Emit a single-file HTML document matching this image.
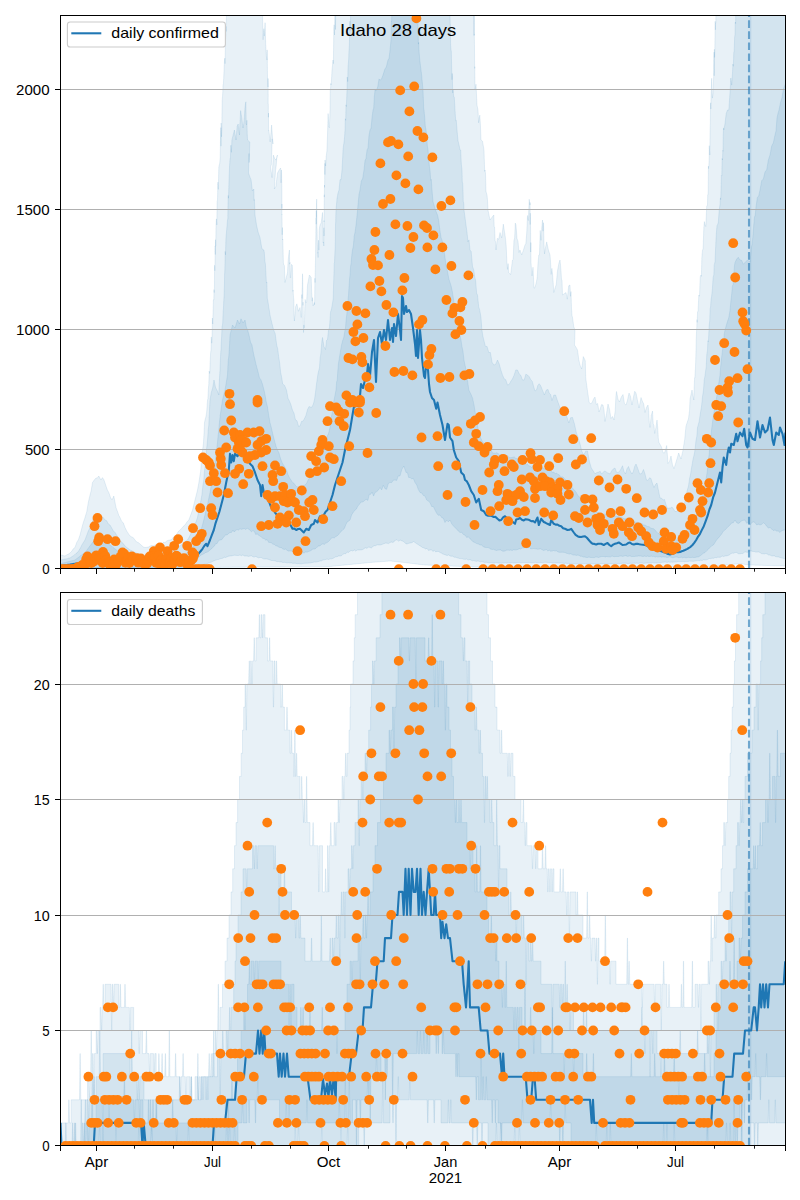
<!DOCTYPE html>
<html><head><meta charset="utf-8"><title>Idaho 28 days</title>
<style>html,body{margin:0;padding:0;background:#fff;}body{width:800px;height:1200px;overflow:hidden;font-family:"Liberation Sans",sans-serif;}svg{display:block}text{font-family:"Liberation Sans",sans-serif;fill:#000}</style></head><body>
<svg width="800" height="1200" viewBox="0 0 800 1200">
<rect width="800" height="1200" fill="#fff"/>
<defs>
<clipPath id="c1"><rect x="60.5" y="15.5" width="725" height="553"/></clipPath>
<clipPath id="c2"><rect x="60.5" y="592.5" width="725" height="553"/></clipPath>
</defs>
<g clip-path="url(#c1)">
<polygon points="60.5,555.0 62.0,555.1 63.5,555.7 65.0,556.0 66.7,554.9 68.3,554.1 70.0,553.0 71.7,551.3 73.3,548.8 75.0,547.5 76.7,542.5 78.3,539.9 80.0,535.0 81.7,528.5 83.3,522.5 85.0,517.5 86.7,512.0 88.3,502.4 90.0,495.0 91.2,490.6 92.5,482.5 94.2,480.1 96.0,478.0 97.4,477.9 98.8,476.0 101.0,480.0 102.4,477.6 103.8,479.5 106.0,486.0 107.4,490.0 108.8,492.5 111.0,499.0 112.4,499.3 113.8,496.0 116.0,507.5 117.3,510.9 118.7,515.1 120.0,517.5 121.7,521.4 123.3,522.8 125.0,527.5 126.7,531.0 128.3,533.4 130.0,536.0 131.7,536.9 133.3,537.7 135.0,540.0 136.7,542.0 138.3,542.6 140.0,544.0 141.7,545.5 143.3,546.9 145.0,547.5 146.7,547.3 148.3,547.1 150.0,546.0 151.7,545.5 153.3,545.8 155.0,545.0 156.7,544.6 158.3,545.1 160.0,544.0 161.7,544.2 163.3,542.3 165.0,542.5 166.7,541.0 168.3,540.3 170.0,540.0 171.7,539.6 173.3,537.2 175.0,536.0 176.7,534.3 178.3,531.5 180.0,530.0 181.7,528.4 183.3,526.3 185.0,525.0 186.9,522.0 188.8,520.0 190.6,515.3 192.5,510.0 195.0,500.0 197.5,490.0 198.8,483.0 200.0,475.0 200.6,471.6 201.2,463.8 201.9,459.6 202.5,450.0 203.0,447.1 203.5,442.5 204.0,433.6 204.5,422.6 205.0,420.0 205.8,417.2 206.7,411.9 207.5,400.0 207.9,398.7 208.4,388.4 208.8,384.0 209.2,371.1 209.7,373.4 210.1,363.6 210.6,353.1 211.0,350.0 211.3,336.9 211.7,343.2 212.0,339.4 212.4,318.0 212.7,324.0 213.1,310.9 213.4,299.8 213.8,300.0 214.0,289.7 214.2,292.6 214.4,288.5 214.6,265.3 214.8,270.7 215.0,262.0 215.2,245.9 215.3,254.5 215.5,239.7 215.7,246.2 215.8,242.5 216.0,225.0 216.4,218.9 216.8,224.9 217.1,201.4 217.5,200.0 217.9,182.2 218.3,189.3 218.8,167.3 219.2,165.0 219.6,164.1 220.0,160.0 220.2,157.0 220.5,137.4 220.8,127.6 221.0,146.2 221.2,123.0 221.5,136.8 221.8,128.8 222.0,110.0 222.2,99.8 222.5,96.2 222.8,91.9 223.0,85.0 223.4,83.7 223.8,75.8 224.1,68.3 224.5,60.0 224.8,58.1 225.1,63.6 225.4,41.5 225.8,35.0 226.0,26.4 226.2,31.4 226.5,6.9 226.8,3.2 227.0,5.0 228.3,5.0 229.7,5.0 231.0,5.0 232.4,5.0 233.7,5.0 235.1,5.0 236.4,5.0 237.8,5.0 239.1,5.0 240.5,5.0 241.8,5.0 243.2,5.0 244.5,5.0 245.8,5.0 247.2,5.0 248.5,5.0 249.9,5.0 251.2,5.0 252.6,5.0 253.9,5.0 255.3,5.0 256.6,5.0 258.0,5.0 259.3,5.0 260.7,5.0 262.0,5.0 262.5,15.0 263.1,39.7 263.8,28.7 264.4,36.1 265.1,22.7 265.7,44.1 266.4,56.5 267.0,60.0 267.2,49.9 267.5,77.5 267.8,84.8 268.0,87.0 268.1,78.5 268.2,103.5 268.3,104.3 268.4,117.3 268.5,113.1 268.6,130.3 268.8,130.0 270.2,141.9 271.6,125.0 273.0,144.0 272.2,138.9 271.4,164.4 270.6,167.0 272.0,177.7 273.4,155.1 274.7,158.6 276.1,160.1 277.5,155.0 276.9,156.7 276.3,164.8 275.6,170.2 275.0,178.7 274.4,189.0 275.9,186.3 277.5,173.1 279.1,169.9 280.6,168.0 281.0,182.8 281.5,169.9 281.9,190.0 281.9,198.1 281.9,208.5 281.9,204.0 281.9,215.0 282.0,214.5 282.2,234.7 282.4,227.6 282.5,240.0 282.8,239.2 283.1,251.1 283.4,263.0 283.8,265.0 284.4,265.5 285.0,282.5 287.5,272.5 288.1,261.2 288.8,253.9 289.4,250.0 289.7,264.1 290.0,262.4 290.3,278.0 290.6,277.5 291.4,264.4 292.2,265.0 292.5,267.9 292.7,280.6 292.9,291.4 293.1,290.0 293.4,295.3 293.6,297.3 293.9,301.7 294.1,315.3 294.4,321.0 295.6,306.8 296.9,303.8 298.4,311.3 300.0,307.5 301.2,317.5 301.4,317.3 301.6,299.2 301.8,294.6 302.0,298.4 302.1,289.1 302.3,286.2 302.5,273.8 302.6,277.2 302.7,279.5 302.8,289.3 302.9,305.4 303.1,302.2 303.2,310.2 303.3,318.0 303.4,324.6 303.5,332.5 303.9,325.0 304.3,327.8 304.8,308.4 305.2,299.5 305.6,302.5 306.6,302.3 307.5,285.0 309.4,275.0 311.2,277.5 311.7,292.2 312.2,301.2 312.6,297.6 313.1,306.0 314.4,302.5 314.5,304.8 314.7,298.3 314.9,278.2 315.0,282.5 315.1,278.2 315.3,268.5 315.5,259.2 315.6,252.5 315.7,241.7 315.8,236.7 315.9,227.8 316.1,217.8 316.2,224.2 316.3,210.7 316.4,217.6 316.5,203.8 316.7,199.1 316.9,227.1 317.1,228.6 317.3,240.6 317.5,246.5 317.7,253.1 317.9,252.5 318.1,257.5 318.5,240.2 318.9,250.1 319.2,230.4 319.6,226.8 320.0,225.0 321.2,222.7 322.5,212.5 322.8,219.8 323.0,223.8 323.2,242.9 323.5,241.9 323.8,246.0 323.8,236.1 323.9,227.8 324.0,236.0 324.0,220.6 324.1,221.9 324.2,204.9 324.3,194.7 324.3,197.1 324.4,190.0 324.5,185.0 324.6,187.4 324.8,163.4 324.9,174.5 325.0,160.0 325.6,166.0 326.2,156.5 326.9,150.9 327.5,135.0 328.1,113.6 328.8,126.5 329.4,127.7 330.0,110.0 330.2,89.1 330.5,90.0 330.8,83.5 331.0,85.0 331.5,79.7 332.0,69.8 332.5,65.3 333.0,60.0 333.4,63.7 333.8,29.3 334.1,24.8 334.5,35.0 334.8,14.9 335.0,8.7 335.2,0.3 335.5,29.5 335.8,5.0 337.1,5.0 338.4,5.0 339.7,5.0 341.0,5.0 342.3,5.0 343.6,5.0 344.9,5.0 346.2,5.0 347.5,5.0 348.8,5.0 350.1,5.0 351.4,5.0 352.7,5.0 354.0,5.0 355.3,5.0 356.6,5.0 357.9,5.0 359.2,5.0 360.5,5.0 361.8,5.0 363.1,5.0 364.4,5.0 365.7,5.0 367.1,5.0 368.4,5.0 369.7,5.0 371.0,5.0 372.3,5.0 373.6,5.0 374.9,5.0 376.2,5.0 377.5,5.0 378.8,5.0 380.1,5.0 381.4,5.0 382.7,5.0 384.0,5.0 385.3,5.0 386.6,5.0 387.9,5.0 389.2,5.0 390.5,5.0 391.8,5.0 393.1,5.0 394.4,5.0 395.7,5.0 397.0,5.0 398.4,5.0 399.7,5.0 401.0,5.0 402.3,5.0 403.6,5.0 404.9,5.0 406.2,5.0 407.5,5.0 408.8,5.0 410.1,5.0 411.4,5.0 412.7,5.0 414.0,5.0 415.3,5.0 416.6,5.0 417.9,5.0 419.2,5.0 420.5,5.0 421.8,5.0 423.1,5.0 424.4,5.0 425.7,5.0 427.0,5.0 428.4,5.0 429.7,5.0 431.0,5.0 432.3,5.0 433.6,5.0 434.9,5.0 436.2,5.0 437.5,5.0 438.8,5.0 440.1,5.0 441.4,5.0 442.7,5.0 444.0,5.0 445.3,5.0 446.6,5.0 447.9,5.0 449.2,5.0 450.5,5.0 451.8,5.0 453.1,5.0 454.4,5.0 455.7,5.0 457.0,5.0 458.3,5.0 459.7,5.0 461.0,5.0 462.3,5.0 463.6,5.0 464.9,5.0 466.2,5.0 467.5,5.0 468.8,5.0 470.1,5.0 471.4,5.0 472.7,5.0 474.0,5.0 474.0,16.0 474.1,35.7 474.2,12.7 474.2,34.6 474.3,33.9 474.4,40.1 474.5,47.6 474.6,64.4 474.7,68.4 474.8,66.7 474.8,67.1 474.9,78.0 475.0,90.0 476.0,84.2 477.0,105.1 478.0,110.0 478.6,122.8 479.2,118.3 479.8,115.1 480.4,124.2 481.0,140.0 482.5,141.2 484.0,150.0 484.3,159.7 484.7,171.3 485.0,170.0 485.5,173.4 486.0,191.4 486.5,193.3 487.0,194.9 487.5,200.1 488.0,210.0 490.0,220.0 491.9,217.4 493.8,215.0 494.2,226.9 494.6,227.1 495.1,240.5 495.6,242.1 496.0,250.0 497.3,238.4 498.7,239.2 500.0,232.5 501.7,237.9 503.3,224.1 505.0,235.0 505.6,239.5 506.2,245.8 506.9,262.1 507.5,269.4 508.1,263.6 508.8,272.5 510.6,274.7 512.5,260.0 513.2,259.4 513.9,240.6 514.6,238.2 515.3,223.1 516.0,225.0 517.0,238.6 518.0,241.3 519.0,252.5 520.0,250.0 521.7,254.9 523.3,250.4 525.0,245.0 525.8,243.7 526.7,233.2 527.5,215.5 528.3,220.5 529.2,199.3 530.0,205.0 530.1,202.5 530.2,224.5 530.3,213.2 530.4,220.9 530.6,227.7 530.7,252.0 530.8,242.6 530.9,245.7 531.0,262.5 532.0,275.9 533.0,267.2 534.0,288.2 535.0,287.5 535.8,284.5 536.5,281.4 537.2,277.5 538.0,263.2 538.8,255.0 539.5,254.7 540.2,230.4 541.0,240.3 541.8,227.3 542.5,220.0 543.0,231.2 543.5,222.7 544.0,243.8 544.5,253.9 545.0,250.0 546.7,241.9 548.3,249.5 550.0,255.0 550.6,262.6 551.2,274.4 551.9,268.4 552.5,273.5 553.1,281.3 553.8,292.5 555.0,288.3 556.2,284.6 557.5,270.8 558.8,263.7 560.0,260.0 560.5,264.8 561.0,270.9 561.5,279.4 562.0,279.8 562.5,295.0 564.2,293.8 566.0,292.5 567.3,299.2 568.7,285.8 570.0,285.0 570.5,296.3 571.0,291.6 571.5,308.0 572.0,315.6 572.5,317.5 573.8,326.7 575.0,330.0 574.8,337.8 574.5,345.0 576.0,347.2 577.5,350.0 578.8,359.6 580.0,365.0 581.7,369.0 583.3,356.6 585.0,360.0 585.3,361.0 585.7,376.7 586.0,380.0 587.5,391.0 589.2,402.5 591.0,404.0 592.3,401.9 593.7,398.7 595.0,397.0 596.3,404.5 597.7,403.5 599.0,412.0 600.0,409.5 601.5,404.6 603.0,405.0 604.0,410.0 605.0,421.5 606.5,413.7 608.0,404.0 609.5,409.2 611.0,418.5 612.5,416.5 614.0,420.0 614.6,415.0 615.2,410.9 615.9,396.2 616.5,391.5 618.0,399.2 619.5,402.0 621.2,397.2 623.0,394.5 624.5,403.9 626.0,405.0 627.5,400.0 629.0,393.0 630.5,396.2 632.0,405.0 633.3,397.7 634.7,391.3 636.0,393.0 637.5,400.3 639.0,408.0 641.0,397.5 642.3,401.1 643.7,403.8 645.0,412.5 646.5,407.2 648.0,405.0 648.7,410.6 649.3,422.8 650.0,427.5 651.2,415.5 652.5,411.0 653.2,423.6 654.0,425.8 654.7,433.5 655.9,427.7 657.0,420.0 657.7,427.2 658.3,438.1 659.0,442.5 661.5,447.0 663.0,452.7 664.5,453.0 666.7,445.5 667.1,452.0 667.6,457.4 668.0,463.5 669.5,461.4 671.0,456.0 672.5,465.0 674.0,468.7 676.5,460.5 678.7,453.0 681.0,459.0 683.0,450.0 684.7,439.5 685.4,431.8 686.0,426.0 688.5,418.5 689.0,414.6 689.5,410.7 690.0,399.0 692.0,390.0 693.8,400.0 694.0,393.4 694.3,384.1 694.6,377.8 694.9,377.9 695.2,371.2 695.4,369.1 695.7,361.5 696.0,350.0 696.2,339.7 696.5,332.5 696.8,327.2 697.0,319.7 697.2,322.3 697.5,312.5 698.1,310.4 698.8,295.0 699.5,296.2 700.2,276.8 701.0,275.0 701.4,276.4 701.8,258.5 702.1,254.6 702.5,250.0 703.1,249.0 703.8,227.9 704.4,221.6 705.0,225.0 705.8,226.5 706.7,206.5 707.5,205.0 707.7,194.9 708.0,194.4 708.2,190.6 708.4,166.1 708.6,168.6 708.9,165.0 709.1,160.1 709.3,145.7 709.5,150.2 709.8,155.0 710.0,135.0 710.2,125.4 710.3,123.9 710.5,104.2 710.7,102.8 710.8,109.1 711.0,97.5 711.7,78.3 712.4,98.1 713.1,92.8 713.8,72.5 714.0,52.1 714.2,75.7 714.4,49.2 714.6,57.4 714.8,50.7 715.0,35.0 715.2,21.3 715.4,29.7 715.6,22.9 715.8,22.9 716.0,5.0 717.3,5.0 718.6,5.0 720.0,5.0 721.3,5.0 722.6,5.0 723.9,5.0 725.2,5.0 726.6,5.0 727.9,5.0 729.2,5.0 730.5,5.0 731.9,5.0 733.2,5.0 734.5,5.0 735.8,5.0 737.1,5.0 738.5,5.0 739.8,5.0 741.1,5.0 742.4,5.0 743.8,5.0 745.1,5.0 746.4,5.0 747.7,5.0 749.0,5.0 750.4,5.0 751.7,5.0 753.0,5.0 754.3,5.0 755.6,5.0 757.0,5.0 758.3,5.0 759.6,5.0 760.9,5.0 762.2,5.0 763.6,5.0 764.9,5.0 766.2,5.0 767.5,5.0 768.9,5.0 770.2,5.0 771.5,5.0 772.8,5.0 774.1,5.0 775.5,5.0 776.8,5.0 778.1,5.0 779.4,5.0 780.8,5.0 782.1,5.0 783.4,5.0 784.7,5.0 786.0,5.0 787.4,5.0 788.7,5.0 790.0,5.0 790.0,566.0 788.3,566.0 786.7,566.0 785.0,566.0 783.7,566.0 782.3,565.9 781.0,565.9 779.6,565.8 778.3,565.8 776.9,565.8 775.6,565.7 774.2,565.7 772.9,565.7 771.5,565.6 770.2,565.6 768.8,565.5 767.5,565.5 766.2,565.5 764.8,565.4 763.5,565.4 762.1,565.3 760.8,565.3 759.4,565.3 758.1,565.2 756.7,565.2 755.4,565.2 754.0,565.1 752.7,565.1 751.3,565.0 750.0,565.0 748.6,564.8 747.1,564.6 745.7,564.5 744.3,564.3 742.9,564.1 741.4,563.9 740.0,563.8 738.6,563.9 737.3,564.0 735.9,564.1 734.5,564.2 733.2,564.3 731.8,564.4 730.5,564.5 729.1,564.7 727.7,564.8 726.4,564.9 725.0,565.0 723.7,565.1 722.4,565.2 721.1,565.3 719.7,565.4 718.4,565.5 717.1,565.6 715.8,565.7 714.5,565.8 713.2,565.9 711.8,566.1 710.5,566.2 709.2,566.3 707.9,566.4 706.6,566.5 705.3,566.6 703.9,566.7 702.6,566.8 701.3,566.9 700.0,567.0 698.7,567.0 697.4,567.0 696.1,567.0 694.8,567.0 693.5,567.0 692.2,567.0 690.9,567.0 689.6,567.0 688.3,567.0 687.0,567.0 685.7,567.0 684.4,567.0 683.1,567.0 681.8,567.0 680.5,567.0 679.2,567.0 677.9,567.0 676.6,567.0 675.3,567.0 674.0,567.0 672.7,567.0 671.4,567.0 670.1,567.0 668.8,567.0 667.5,567.0 666.2,567.0 664.9,567.0 663.6,567.0 662.3,567.0 661.0,567.0 659.7,567.0 658.4,567.0 657.1,567.0 655.8,567.0 654.5,567.0 653.2,567.0 651.9,567.0 650.6,567.0 649.3,567.0 648.0,567.0 646.7,567.0 645.4,567.0 644.1,567.0 642.8,567.0 641.5,567.0 640.2,567.0 638.9,567.0 637.6,567.0 636.3,567.0 635.0,567.0 633.7,567.0 632.4,567.0 631.1,567.0 629.8,567.0 628.5,567.0 627.2,567.0 625.9,567.0 624.6,567.0 623.3,567.0 622.0,567.0 620.7,567.0 619.4,567.0 618.1,567.0 616.8,567.0 615.5,567.0 614.2,567.0 612.9,567.0 611.6,567.0 610.3,567.0 609.0,567.0 607.7,567.0 606.4,567.0 605.1,567.0 603.8,567.0 602.5,567.0 601.2,567.0 599.9,567.0 598.6,567.0 597.3,567.0 596.0,567.0 594.7,567.0 593.4,567.0 592.1,567.0 590.8,567.0 589.5,567.0 588.2,567.0 586.8,567.0 585.5,567.0 584.2,567.0 582.9,567.0 581.6,567.0 580.3,567.0 579.0,567.0 577.7,567.0 576.4,567.0 575.1,567.0 573.8,567.0 572.5,567.0 571.2,567.0 569.9,567.0 568.6,567.0 567.3,567.0 566.0,567.0 564.7,567.0 563.4,567.0 562.1,567.0 560.8,567.0 559.5,567.0 558.2,567.0 556.9,567.0 555.6,567.0 554.3,567.0 553.0,567.0 551.7,567.0 550.4,567.0 549.1,567.0 547.8,567.0 546.5,567.0 545.2,567.0 543.9,567.0 542.6,567.0 541.3,567.0 540.0,567.0 538.7,567.0 537.4,567.0 536.1,567.0 534.8,567.0 533.5,567.0 532.2,567.0 530.9,567.0 529.6,567.0 528.3,567.0 527.0,567.0 525.7,567.0 524.4,567.0 523.1,567.0 521.8,567.0 520.5,567.0 519.2,567.0 517.9,567.0 516.6,567.0 515.3,567.0 514.0,567.0 512.7,567.0 511.4,567.0 510.1,567.0 508.8,567.0 507.5,567.0 506.2,567.0 504.9,567.0 503.6,567.0 502.3,567.0 501.0,567.0 499.7,567.0 498.4,567.0 497.1,567.0 495.8,567.0 494.5,567.0 493.2,567.0 491.9,567.0 490.6,567.0 489.3,567.0 488.0,567.0 486.7,567.0 485.4,567.0 484.1,567.0 482.8,567.0 481.5,567.0 480.2,567.0 478.9,567.0 477.6,567.0 476.3,567.0 475.0,567.0 473.7,566.9 472.4,566.9 471.1,566.8 469.7,566.8 468.4,566.7 467.1,566.7 465.8,566.6 464.5,566.6 463.2,566.5 461.8,566.5 460.5,566.4 459.2,566.4 457.9,566.3 456.6,566.3 455.3,566.2 453.9,566.2 452.6,566.1 451.3,566.1 450.0,566.0 448.7,565.9 447.4,565.9 446.1,565.8 444.7,565.8 443.4,565.7 442.1,565.7 440.8,565.6 439.5,565.6 438.2,565.5 436.8,565.5 435.5,565.4 434.2,565.4 432.9,565.3 431.6,565.3 430.3,565.2 428.9,565.2 427.6,565.1 426.3,565.1 425.0,565.0 423.7,564.8 422.4,564.7 421.1,564.5 419.7,564.4 418.4,564.2 417.1,564.1 415.8,563.9 414.5,563.7 413.2,563.6 411.8,563.4 410.5,563.3 409.2,563.1 407.9,562.9 406.6,562.8 405.3,562.6 403.9,562.5 402.6,562.3 401.3,562.2 400.0,562.0 398.6,561.9 397.1,561.7 395.7,561.6 394.3,561.4 392.9,561.3 391.4,561.1 390.0,561.0 388.7,561.1 387.3,561.2 386.0,561.3 384.7,561.4 383.3,561.5 382.0,561.6 380.7,561.7 379.3,561.8 378.0,561.9 376.7,562.0 375.3,562.1 374.0,562.2 372.7,562.3 371.3,562.4 370.0,562.5 368.7,562.6 367.3,562.8 366.0,562.9 364.7,563.0 363.3,563.2 362.0,563.3 360.7,563.4 359.3,563.6 358.0,563.7 356.7,563.8 355.3,564.0 354.0,564.1 352.7,564.2 351.3,564.4 350.0,564.5 348.7,564.6 347.3,564.8 346.0,564.9 344.7,565.0 343.3,565.2 342.0,565.3 340.7,565.4 339.3,565.6 338.0,565.7 336.7,565.8 335.3,566.0 334.0,566.1 332.7,566.2 331.3,566.4 330.0,566.5 328.7,566.5 327.4,566.5 326.1,566.5 324.8,566.5 323.5,566.5 322.2,566.6 320.9,566.6 319.6,566.6 318.3,566.6 317.0,566.6 315.7,566.6 314.4,566.6 313.1,566.6 311.8,566.6 310.5,566.6 309.2,566.7 307.9,566.7 306.6,566.7 305.3,566.7 304.0,566.7 302.7,566.7 301.4,566.7 300.1,566.7 298.8,566.7 297.5,566.8 296.2,566.8 294.9,566.8 293.6,566.8 292.3,566.8 291.0,566.8 289.7,566.8 288.4,566.8 287.1,566.8 285.8,566.8 284.5,566.9 283.2,566.9 281.9,566.9 280.6,566.9 279.3,566.9 278.0,566.9 276.7,566.9 275.4,566.9 274.1,566.9 272.8,566.9 271.5,567.0 270.2,567.0 268.9,567.0 267.6,567.0 266.3,567.0 265.0,567.0 263.7,567.0 262.4,567.0 261.1,567.0 259.8,567.0 258.5,567.0 257.2,567.1 255.9,567.1 254.6,567.1 253.3,567.1 252.0,567.1 250.7,567.1 249.4,567.1 248.1,567.1 246.8,567.1 245.5,567.1 244.2,567.2 242.9,567.2 241.6,567.2 240.3,567.2 239.0,567.2 237.7,567.2 236.4,567.2 235.1,567.2 233.8,567.2 232.5,567.2 231.2,567.3 229.9,567.3 228.6,567.3 227.3,567.3 226.0,567.3 224.7,567.3 223.4,567.3 222.1,567.3 220.8,567.3 219.5,567.4 218.2,567.4 216.9,567.4 215.6,567.4 214.3,567.4 213.0,567.4 211.7,567.4 210.4,567.4 209.1,567.4 207.8,567.4 206.5,567.5 205.2,567.5 203.9,567.5 202.6,567.5 201.3,567.5 200.0,567.5 198.7,567.5 197.4,567.5 196.1,567.5 194.8,567.5 193.5,567.5 192.2,567.5 190.9,567.5 189.6,567.5 188.3,567.5 187.0,567.5 185.7,567.6 184.4,567.6 183.1,567.6 181.7,567.6 180.4,567.6 179.1,567.6 177.8,567.6 176.5,567.6 175.2,567.6 173.9,567.6 172.6,567.6 171.3,567.6 170.0,567.6 168.7,567.6 167.4,567.6 166.1,567.6 164.8,567.6 163.5,567.6 162.2,567.6 160.9,567.6 159.6,567.6 158.3,567.6 157.0,567.7 155.7,567.7 154.4,567.7 153.1,567.7 151.8,567.7 150.5,567.7 149.2,567.7 147.9,567.7 146.5,567.7 145.2,567.7 143.9,567.7 142.6,567.7 141.3,567.7 140.0,567.7 138.7,567.7 137.4,567.7 136.1,567.7 134.8,567.7 133.5,567.7 132.2,567.7 130.9,567.7 129.6,567.8 128.3,567.8 127.0,567.8 125.7,567.8 124.4,567.8 123.1,567.8 121.8,567.8 120.5,567.8 119.2,567.8 117.9,567.8 116.6,567.8 115.3,567.8 114.0,567.8 112.6,567.8 111.3,567.8 110.0,567.8 108.7,567.8 107.4,567.8 106.1,567.8 104.8,567.8 103.5,567.8 102.2,567.9 100.9,567.9 99.6,567.9 98.3,567.9 97.0,567.9 95.7,567.9 94.4,567.9 93.1,567.9 91.8,567.9 90.5,567.9 89.2,567.9 87.9,567.9 86.6,567.9 85.3,567.9 84.0,567.9 82.7,567.9 81.4,567.9 80.1,567.9 78.8,567.9 77.4,567.9 76.1,567.9 74.8,567.9 73.5,568.0 72.2,568.0 70.9,568.0 69.6,568.0 68.3,568.0 67.0,568.0 65.7,568.0 64.4,568.0 63.1,568.0 61.8,568.0 60.5,568.0" fill="#1f77b4" fill-opacity="0.1" stroke="#1f77b4" stroke-opacity="0.1" stroke-width="1"/>
<polygon points="60.5,560.0 61.9,559.7 63.2,559.4 64.6,559.1 65.9,558.9 67.3,558.7 68.6,558.2 70.0,558.0 71.5,556.9 73.0,556.0 74.5,554.9 76.0,553.4 77.5,552.5 79.0,550.3 80.5,547.8 82.0,544.7 83.5,542.3 85.0,540.0 86.7,535.4 88.3,531.0 90.0,527.5 91.9,523.4 93.8,517.5 95.6,515.4 97.5,513.8 100.0,515.0 101.7,517.4 103.3,517.6 105.0,520.0 106.7,520.8 108.3,524.0 110.0,525.0 111.7,528.0 113.3,530.8 115.0,532.5 116.7,535.2 118.3,537.5 120.0,540.0 121.7,542.3 123.3,543.6 125.0,546.0 126.7,547.4 128.3,548.6 130.0,550.0 131.7,550.6 133.3,551.7 135.0,552.5 136.7,553.1 138.3,553.8 140.0,554.5 141.7,554.8 143.3,555.1 145.0,555.5 146.4,555.2 147.9,555.1 149.3,555.1 150.7,554.9 152.1,554.6 153.6,554.4 155.0,554.0 156.4,553.5 157.7,553.6 159.1,552.8 160.5,552.3 161.8,552.2 163.2,552.0 164.5,551.3 165.9,551.2 167.3,550.6 168.6,550.7 170.0,550.0 171.4,549.4 172.9,548.8 174.3,548.3 175.7,548.0 177.1,547.6 178.6,546.6 180.0,546.0 181.5,544.7 183.0,543.7 184.5,542.0 186.0,541.1 187.5,540.0 189.2,537.1 190.8,533.7 192.5,530.0 194.2,525.1 195.8,522.3 197.5,517.5 199.2,508.5 201.0,500.0 201.9,494.8 202.8,486.2 203.8,480.0 204.3,472.7 204.9,467.7 205.4,462.9 206.0,455.0 206.6,448.7 207.1,444.8 207.7,438.1 208.2,430.2 208.8,425.0 209.1,417.6 209.4,412.5 209.7,405.6 210.0,400.0 211.3,392.4 212.7,387.8 214.0,380.0 215.6,387.7 217.2,390.6 218.8,395.0 219.1,386.0 219.4,380.1 219.7,374.7 220.0,370.2 220.4,359.9 220.7,352.9 221.0,350.0 221.3,342.1 221.7,335.5 222.0,326.8 222.4,325.4 222.7,323.0 223.1,312.9 223.4,308.7 223.8,300.0 224.0,297.4 224.2,291.3 224.4,286.0 224.6,274.3 224.8,270.9 225.0,262.5 225.2,251.5 225.5,254.8 225.8,242.2 226.0,237.5 226.8,228.4 227.5,220.0 227.8,218.9 228.0,203.6 228.2,195.4 228.5,198.2 228.8,188.2 229.0,180.0 229.5,166.8 230.0,159.1 230.4,157.6 230.9,145.2 231.4,152.3 231.9,140.0 234.4,130.0 236.0,140.0 237.1,126.5 238.1,124.0 239.5,135.0 239.8,124.9 240.1,120.8 240.3,116.9 240.6,110.6 241.8,118.1 243.0,128.0 243.7,124.0 244.3,118.4 244.9,108.1 245.6,103.0 245.9,101.8 246.2,124.0 246.6,124.9 246.9,120.3 247.2,132.8 247.5,140.0 249.8,142.0 249.5,152.5 249.2,162.5 249.0,153.5 248.8,158.9 248.5,173.0 249.8,176.7 251.1,179.8 252.4,191.0 253.8,189.0 254.1,200.4 254.4,199.5 254.7,207.3 255.0,215.0 256.5,225.0 258.2,232.4 260.0,237.5 261.9,248.7 263.8,250.0 264.3,252.5 264.9,261.2 265.4,263.8 266.0,275.0 266.4,282.9 266.9,282.2 267.3,298.5 267.7,300.0 268.9,307.7 270.0,315.0 271.9,323.2 273.7,330.0 275.2,333.7 276.7,345.0 277.7,348.7 278.7,356.7 279.7,363.0 280.7,372.8 281.7,377.3 282.7,384.0 284.6,385.4 286.5,390.0 288.0,398.3 289.5,401.1 291.0,405.0 292.5,410.2 294.0,413.2 295.5,420.0 297.0,420.8 298.5,426.3 300.0,426.0 301.5,421.4 303.0,421.2 304.5,418.5 306.0,415.2 307.5,409.6 309.0,406.5 310.5,407.2 312.0,407.2 313.5,403.5 314.5,399.4 315.5,392.2 316.5,384.0 318.0,373.5 319.5,367.5 320.1,357.9 320.7,354.9 321.3,347.9 321.9,340.7 322.5,337.5 324.0,346.8 325.5,349.5 326.5,340.4 327.5,339.5 328.5,330.0 329.5,327.3 330.5,312.2 331.5,309.0 333.0,300.0 333.2,298.3 333.5,286.3 333.8,277.9 334.0,271.3 334.2,263.2 334.5,262.5 334.8,254.8 335.0,250.0 335.2,247.9 335.3,241.1 335.5,224.0 335.7,222.0 335.8,215.1 336.0,210.0 337.0,198.6 338.0,193.0 339.0,190.0 340.0,179.7 341.0,179.7 342.0,170.0 342.5,160.7 343.0,150.3 343.5,145.3 344.0,142.4 344.5,137.8 345.0,130.0 345.3,118.8 345.7,120.3 346.0,104.8 346.3,106.5 346.7,98.7 347.0,90.0 347.3,77.0 347.7,81.6 348.0,67.9 348.3,64.1 348.7,58.7 349.0,50.0 349.3,46.3 349.6,35.9 349.9,21.2 350.1,30.5 350.4,25.8 350.7,11.2 351.0,5.0 352.3,5.0 353.6,5.0 354.9,5.0 356.2,5.0 357.5,5.0 358.8,5.0 360.1,5.0 361.4,5.0 362.7,5.0 364.0,5.0 365.3,5.0 366.6,5.0 367.9,5.0 369.2,5.0 370.5,5.0 371.8,5.0 373.1,5.0 374.4,5.0 375.8,5.0 377.1,5.0 378.4,5.0 379.7,5.0 381.0,5.0 382.3,5.0 383.6,5.0 384.9,5.0 386.2,5.0 387.5,5.0 388.8,5.0 390.1,5.0 391.4,5.0 392.7,5.0 394.0,5.0 395.3,5.0 396.6,5.0 397.9,5.0 399.2,5.0 400.5,5.0 401.8,5.0 403.1,5.0 404.4,5.0 405.7,5.0 407.0,5.0 408.3,5.0 409.6,5.0 410.9,5.0 412.2,5.0 413.5,5.0 414.8,5.0 416.1,5.0 417.4,5.0 418.7,5.0 420.0,5.0 421.3,5.0 422.6,5.0 423.9,5.0 425.2,5.0 426.6,5.0 427.9,5.0 429.2,5.0 430.5,5.0 431.8,5.0 433.1,5.0 434.4,5.0 435.7,5.0 437.0,5.0 438.3,5.0 439.6,5.0 440.9,5.0 442.2,5.0 443.5,5.0 444.8,5.0 446.1,5.0 447.4,5.0 448.7,5.0 450.0,5.0 450.0,16.0 450.2,24.5 450.4,24.6 450.6,44.9 450.8,47.1 451.0,50.0 451.3,51.0 451.7,69.7 452.0,79.7 452.3,73.6 452.7,92.9 453.0,90.0 453.7,96.3 454.3,97.4 455.0,110.0 455.7,120.6 456.3,120.5 457.0,130.0 458.0,140.7 459.0,144.8 460.0,150.0 460.7,150.2 461.3,163.8 462.0,170.0 462.3,182.2 462.7,183.0 463.0,190.6 463.3,202.1 463.7,202.6 464.0,210.0 465.0,217.4 466.0,225.0 467.0,232.4 468.0,241.8 469.0,239.9 470.0,250.0 471.2,251.6 472.5,266.5 473.8,270.0 474.7,276.9 475.6,280.2 476.6,293.1 477.5,295.0 478.7,306.6 479.8,310.4 481.0,317.5 481.9,329.8 482.8,335.7 483.8,340.0 485.4,346.4 487.1,346.5 488.8,352.5 490.4,352.5 492.1,362.3 493.8,365.0 495.6,364.4 497.5,360.0 499.2,363.8 500.8,369.8 502.5,375.0 504.2,378.8 505.8,379.8 507.5,385.0 509.2,384.4 510.8,381.3 512.5,378.8 514.2,375.0 515.8,369.9 517.5,370.0 519.2,373.8 520.8,375.3 522.5,380.0 524.2,380.0 525.8,374.2 527.5,375.0 529.2,376.7 531.0,380.0 532.3,381.4 533.7,386.7 535.0,391.0 536.4,390.2 537.8,385.5 539.2,383.7 540.6,385.6 542.5,390.2 544.4,395.0 546.2,390.1 548.0,389.4 549.3,393.2 550.7,394.6 552.0,400.6 553.8,395.1 555.6,395.0 557.5,400.8 559.4,406.0 560.8,410.2 562.2,411.3 563.6,410.6 565.0,412.0 566.9,416.9 568.8,423.0 570.6,417.7 572.5,417.5 574.4,423.7 576.3,432.5 578.1,437.2 580.0,443.8 581.9,451.5 583.8,455.0 585.6,451.2 587.5,451.0 589.4,461.4 591.3,468.0 593.1,470.8 595.0,473.8 596.9,472.6 598.8,472.0 600.2,471.3 601.6,474.1 603.0,472.5 604.5,470.9 606.0,471.7 607.3,472.7 608.7,473.3 610.0,474.0 611.7,470.8 613.3,468.9 615.0,468.0 616.5,472.2 618.0,472.5 619.5,471.4 621.0,468.9 622.5,465.7 624.0,471.4 625.5,474.0 627.0,468.7 628.5,466.5 630.2,471.0 632.0,474.0 633.3,471.6 634.7,466.2 636.0,464.0 637.9,468.8 639.7,474.0 641.6,473.6 643.5,469.5 645.0,474.1 646.5,480.0 648.0,480.4 649.5,477.8 651.0,478.5 652.5,483.6 654.0,487.5 655.5,484.5 657.0,483.0 658.5,490.5 660.0,498.0 661.5,498.1 663.0,500.0 664.5,499.5 666.0,504.6 667.5,508.5 669.0,508.0 670.5,508.0 672.0,507.0 673.5,509.1 675.0,511.5 676.7,511.4 678.3,509.3 680.0,509.0 681.3,507.9 682.7,506.9 684.0,505.5 685.5,498.7 687.0,491.1 688.5,486.0 689.5,478.8 690.5,474.5 691.5,468.0 693.0,459.3 694.5,453.0 695.2,447.9 696.0,440.3 696.8,436.3 697.5,427.5 699.0,422.1 700.5,412.5 701.5,406.5 702.5,396.6 703.5,390.0 704.2,380.0 704.8,377.1 705.5,371.9 706.2,366.8 706.8,354.2 707.5,350.0 707.9,340.7 708.4,341.9 708.8,333.5 709.2,324.9 709.7,321.1 710.1,308.9 710.6,306.7 711.0,300.0 711.7,295.6 712.4,288.7 713.1,277.4 713.8,275.0 714.2,264.4 714.6,264.0 715.1,261.0 715.5,250.0 716.0,239.1 716.5,231.0 717.0,225.6 717.5,225.0 718.3,222.3 719.2,210.1 720.0,205.0 720.4,197.9 720.7,199.6 721.1,187.4 721.4,175.6 721.8,176.0 722.1,158.4 722.5,160.0 722.8,150.4 723.0,151.3 723.2,136.4 723.5,127.9 723.8,130.0 725.0,123.7 726.2,113.6 727.5,110.0 728.8,110.1 730.0,92.5 730.8,78.1 731.7,85.1 732.5,72.5 732.9,64.0 733.3,66.2 733.8,52.6 734.2,51.0 734.6,37.6 735.0,35.0 735.2,23.1 735.4,22.0 735.6,23.6 735.8,7.6 736.0,5.0 737.3,5.0 738.6,5.0 740.0,5.0 741.3,5.0 742.6,5.0 743.9,5.0 745.2,5.0 746.5,5.0 747.9,5.0 749.2,5.0 750.5,5.0 751.8,5.0 753.1,5.0 754.4,5.0 755.8,5.0 757.1,5.0 758.4,5.0 759.7,5.0 761.0,5.0 762.3,5.0 763.7,5.0 765.0,5.0 766.3,5.0 767.6,5.0 768.9,5.0 770.2,5.0 771.6,5.0 772.9,5.0 774.2,5.0 775.5,5.0 776.8,5.0 778.1,5.0 779.5,5.0 780.8,5.0 782.1,5.0 783.4,5.0 784.7,5.0 786.0,5.0 787.4,5.0 788.7,5.0 790.0,5.0 790.0,559.0 788.3,559.2 786.7,559.0 785.0,558.8 783.3,558.3 781.7,558.0 780.0,557.5 778.6,557.0 777.1,556.8 775.7,556.7 774.3,555.7 772.9,555.9 771.4,555.8 770.0,555.0 768.6,555.0 767.1,553.9 765.7,553.6 764.3,553.9 762.9,553.8 761.4,553.6 760.0,552.5 758.6,551.9 757.1,552.1 755.7,552.1 754.3,551.5 752.9,551.5 751.4,551.0 750.0,551.0 748.6,551.7 747.1,552.4 745.7,551.9 744.3,552.3 742.9,553.5 741.4,553.5 740.0,553.8 738.3,553.7 736.7,552.5 735.0,552.5 733.6,553.2 732.1,553.1 730.7,553.8 729.3,554.9 727.9,555.6 726.4,555.9 725.0,556.0 723.6,556.6 722.1,556.0 720.7,557.1 719.3,557.3 717.9,557.2 716.4,557.7 715.0,557.5 713.6,558.3 712.1,558.2 710.7,558.6 709.3,558.6 707.9,559.3 706.4,559.8 705.0,560.0 703.6,559.7 702.1,560.6 700.7,560.2 699.3,560.7 697.9,560.6 696.4,560.8 695.0,561.0 693.7,561.3 692.4,561.3 691.0,561.2 689.7,561.1 688.4,561.4 687.1,561.6 685.7,561.6 684.4,561.7 683.1,561.6 681.8,561.5 680.4,561.6 679.1,561.6 677.8,561.5 676.5,562.0 675.1,562.0 673.8,562.1 672.5,562.2 671.2,562.0 669.9,562.3 668.5,561.9 667.2,562.4 665.9,562.1 664.6,562.1 663.2,562.3 661.9,562.3 660.6,562.8 659.3,562.7 657.9,562.8 656.6,562.9 655.3,563.0 654.0,563.0 652.6,562.6 651.3,563.0 650.0,563.0 648.7,563.0 647.4,562.9 646.1,563.1 644.7,563.2 643.4,563.3 642.1,563.0 640.8,563.0 639.5,563.0 638.2,563.4 636.8,563.1 635.5,563.3 634.2,563.0 632.9,563.3 631.6,563.4 630.3,563.2 628.9,563.4 627.6,563.5 626.3,563.2 625.0,563.2 623.7,563.2 622.4,563.2 621.1,563.4 619.7,563.5 618.4,563.4 617.1,563.5 615.8,563.3 614.5,563.5 613.2,563.6 611.8,563.7 610.5,563.6 609.2,563.7 607.9,563.7 606.6,563.6 605.3,563.6 603.9,563.8 602.6,563.5 601.3,563.7 600.0,563.8 598.7,563.7 597.4,563.5 596.1,563.8 594.7,563.9 593.4,563.8 592.1,563.7 590.8,563.8 589.5,563.7 588.2,564.0 586.8,563.6 585.5,563.6 584.2,563.5 582.9,563.8 581.6,563.8 580.3,563.6 578.9,563.6 577.6,563.6 576.3,563.8 575.0,563.8 573.7,563.7 572.4,563.6 571.1,563.4 569.7,563.7 568.4,563.3 567.1,563.5 565.8,563.1 564.5,563.4 563.2,563.2 561.8,563.1 560.5,563.0 559.2,563.0 557.9,562.9 556.6,562.9 555.3,562.7 553.9,562.8 552.6,562.9 551.3,562.5 550.0,562.5 548.7,562.6 547.4,562.4 546.1,562.3 544.7,562.3 543.4,562.5 542.1,562.8 540.8,562.4 539.5,562.6 538.2,562.6 536.8,562.7 535.5,562.3 534.2,562.4 532.9,562.7 531.6,562.7 530.3,562.4 528.9,562.4 527.6,562.6 526.3,562.5 525.0,562.5 523.7,562.5 522.4,562.5 521.1,562.8 519.7,562.4 518.4,562.5 517.1,562.5 515.8,562.9 514.5,562.9 513.2,562.9 511.8,562.6 510.5,562.9 509.2,562.8 507.9,562.8 506.6,563.1 505.3,562.7 503.9,563.0 502.6,562.8 501.3,563.2 500.0,563.0 498.6,563.0 497.2,562.7 495.8,562.6 494.4,562.9 493.1,562.9 491.7,562.7 490.3,562.7 488.9,562.7 487.5,562.5 486.1,562.2 484.7,562.4 483.3,562.0 481.9,561.5 480.6,561.8 479.2,561.3 477.8,561.0 476.4,561.3 475.0,561.0 473.6,560.6 472.2,560.8 470.8,559.9 469.4,559.7 468.1,560.1 466.7,559.1 465.3,559.3 463.9,559.3 462.5,558.8 461.1,558.6 459.7,558.6 458.3,558.1 456.9,557.8 455.6,557.2 454.2,557.2 452.8,556.2 451.4,556.2 450.0,556.0 448.6,554.9 447.1,555.6 445.7,555.0 444.3,554.5 442.9,554.0 441.4,553.1 440.0,552.5 438.6,551.5 437.1,551.4 435.7,551.9 434.3,550.5 432.9,551.4 431.4,549.7 430.0,550.0 428.5,550.4 427.0,548.4 425.5,548.9 424.0,547.9 422.5,547.5 421.0,546.4 419.5,545.5 418.0,544.5 416.5,543.6 415.0,542.5 413.5,541.5 412.0,542.7 410.5,542.9 409.0,543.2 407.5,543.8 406.0,543.9 404.5,542.3 403.0,541.2 401.5,540.7 400.0,540.0 398.6,541.3 397.1,539.8 395.7,540.0 394.3,541.4 392.9,542.5 391.4,542.0 390.0,542.5 388.6,543.6 387.1,543.2 385.7,543.1 384.3,543.5 382.9,544.1 381.4,544.7 380.0,545.0 378.6,544.9 377.1,544.8 375.7,545.7 374.3,545.7 372.9,546.5 371.4,547.9 370.0,547.5 368.6,546.9 367.1,548.4 365.7,547.8 364.3,548.4 362.9,549.5 361.4,549.9 360.0,550.0 358.6,549.9 357.1,550.1 355.7,551.1 354.3,549.9 352.9,551.0 351.4,550.5 350.0,551.0 348.6,552.4 347.1,552.0 345.7,553.8 344.3,553.6 342.9,554.3 341.4,555.8 340.0,556.0 338.6,555.9 337.1,556.7 335.7,556.8 334.3,557.6 332.9,558.4 331.4,558.8 330.0,558.8 328.6,559.5 327.1,559.1 325.7,559.5 324.3,559.8 322.9,560.0 321.4,560.9 320.0,561.0 318.6,561.5 317.1,561.9 315.7,562.1 314.3,562.0 312.9,562.4 311.4,562.7 310.0,563.0 308.6,563.1 307.1,563.2 305.7,563.2 304.3,563.3 302.9,563.5 301.4,563.8 300.0,563.8 298.6,563.5 297.1,563.7 295.7,563.3 294.3,563.2 292.9,563.4 291.4,562.9 290.0,563.0 288.6,562.7 287.1,563.0 285.7,562.5 284.3,562.3 282.9,562.6 281.4,561.9 280.0,562.0 278.6,561.6 277.1,561.7 275.7,561.1 274.3,560.7 272.9,560.5 271.4,560.5 270.0,560.0 268.6,559.4 267.1,559.0 265.7,558.9 264.3,559.0 262.9,558.6 261.4,557.6 260.0,557.5 258.6,557.8 257.1,557.2 255.7,556.4 254.3,557.1 252.9,556.8 251.4,555.8 250.0,556.0 248.6,556.4 247.1,556.0 245.7,556.0 244.3,555.9 242.9,554.9 241.4,555.7 240.0,555.0 238.6,555.4 237.1,555.5 235.7,555.3 234.3,555.2 232.9,555.6 231.4,555.9 230.0,556.0 228.6,556.2 227.1,556.8 225.7,557.5 224.3,557.2 222.9,558.2 221.4,558.5 220.0,558.8 218.6,559.4 217.1,559.6 215.7,560.1 214.3,560.7 212.9,561.3 211.4,562.1 210.0,562.5 208.6,562.9 207.1,563.6 205.7,564.1 204.3,564.3 202.9,565.0 201.4,565.5 200.0,566.0 198.6,566.2 197.1,566.5 195.7,566.6 194.3,566.9 192.9,567.0 191.4,567.2 190.0,567.5 188.7,567.5 187.4,567.5 186.1,567.5 184.8,567.5 183.5,567.5 182.2,567.5 180.8,567.5 179.5,567.5 178.2,567.5 176.9,567.6 175.6,567.6 174.3,567.6 173.0,567.6 171.7,567.6 170.4,567.6 169.1,567.6 167.8,567.6 166.5,567.6 165.1,567.6 163.8,567.6 162.5,567.6 161.2,567.6 159.9,567.6 158.6,567.6 157.3,567.6 156.0,567.7 154.7,567.6 153.4,567.6 152.1,567.6 150.8,567.7 149.4,567.7 148.1,567.7 146.8,567.6 145.5,567.7 144.2,567.7 142.9,567.7 141.6,567.7 140.3,567.7 139.0,567.7 137.7,567.7 136.4,567.7 135.1,567.7 133.8,567.7 132.4,567.7 131.1,567.7 129.8,567.7 128.5,567.7 127.2,567.7 125.9,567.7 124.6,567.7 123.3,567.8 122.0,567.7 120.7,567.8 119.4,567.8 118.1,567.8 116.7,567.8 115.4,567.8 114.1,567.8 112.8,567.8 111.5,567.8 110.2,567.8 108.9,567.8 107.6,567.8 106.3,567.8 105.0,567.8 103.7,567.8 102.4,567.8 101.1,567.9 99.7,567.8 98.4,567.9 97.1,567.9 95.8,567.9 94.5,567.9 93.2,567.9 91.9,567.9 90.6,567.9 89.3,567.9 88.0,567.9 86.7,567.9 85.4,567.9 84.0,567.9 82.7,567.9 81.4,567.9 80.1,567.9 78.8,567.9 77.5,567.9 76.2,567.9 74.9,567.9 73.6,567.9 72.3,567.9 71.0,568.0 69.7,568.0 68.3,568.0 67.0,568.0 65.7,568.0 64.4,568.0 63.1,568.0 61.8,568.0 60.5,568.0" fill="#1f77b4" fill-opacity="0.1" stroke="#1f77b4" stroke-opacity="0.1" stroke-width="1"/>
<polygon points="60.5,563.8 61.8,563.5 63.1,563.0 64.5,562.7 65.8,562.4 67.1,562.1 68.4,561.7 69.7,561.4 71.0,560.9 72.4,560.7 73.7,560.4 75.0,560.0 76.4,558.9 77.9,557.8 79.3,556.8 80.7,555.6 82.1,554.7 83.6,553.5 85.0,552.5 86.5,550.7 88.0,548.6 89.5,546.5 91.0,544.6 92.5,542.5 94.2,541.2 95.8,540.0 97.5,538.8 99.2,538.9 100.8,539.8 102.5,540.0 104.0,541.2 105.5,542.2 107.0,542.7 108.5,544.2 110.0,545.0 111.5,545.9 113.0,547.4 114.5,548.6 116.0,549.6 117.5,551.0 119.0,552.0 120.5,553.1 122.0,554.0 123.5,554.9 125.0,556.0 126.4,556.4 127.7,556.5 129.1,556.9 130.5,557.1 131.8,557.3 133.2,557.8 134.5,557.8 135.9,558.1 137.3,558.5 138.6,558.6 140.0,559.0 141.3,559.0 142.7,559.1 144.0,559.0 145.3,559.0 146.7,559.1 148.0,559.1 149.3,559.0 150.7,559.0 152.0,559.0 153.3,559.0 154.7,559.1 156.0,559.1 157.3,558.9 158.7,558.9 160.0,559.0 161.4,558.8 162.7,558.8 164.1,558.5 165.5,558.4 166.8,558.4 168.2,558.1 169.5,558.2 170.9,557.9 172.3,557.9 173.6,557.7 175.0,557.5 176.4,557.1 177.9,556.9 179.3,556.4 180.7,556.0 182.1,555.6 183.6,555.4 185.0,555.0 186.5,553.5 188.0,551.9 189.5,550.6 191.0,548.9 192.5,547.5 194.2,545.0 195.8,542.2 197.5,540.0 199.2,534.9 200.8,530.4 202.5,525.0 204.2,518.3 205.8,511.2 207.5,505.0 208.8,498.3 210.0,492.8 211.2,485.8 212.5,480.0 213.4,474.6 214.2,466.4 215.1,462.2 216.0,455.0 216.7,449.1 217.4,443.5 218.1,435.8 218.8,430.0 219.5,421.8 220.2,415.5 221.0,410.0 222.5,400.0 225.0,390.0 226.2,383.1 227.5,375.0 227.9,366.1 228.3,359.7 228.8,356.4 229.2,350.3 229.6,343.6 230.0,335.0 232.5,325.0 235.0,328.0 237.5,320.0 239.5,324.0 241.0,318.8 243.0,323.0 245.0,320.0 246.3,327.0 247.7,330.3 249.0,335.0 250.5,342.1 252.0,345.0 253.5,353.5 255.0,360.0 256.5,366.3 258.0,371.7 259.5,378.0 261.0,379.9 262.5,384.2 264.0,390.0 265.1,395.0 266.2,401.8 267.4,406.5 268.5,414.0 270.0,422.7 271.5,428.3 273.0,435.0 274.5,440.7 276.0,446.2 277.5,450.0 279.0,453.0 280.5,458.5 282.0,462.4 283.5,465.0 285.0,467.4 286.5,470.1 288.0,474.7 289.5,477.9 291.0,480.0 292.5,482.4 294.0,483.3 295.5,485.5 297.0,487.0 298.5,486.8 300.0,488.0 301.7,486.5 303.3,485.8 305.0,485.0 306.7,483.2 308.3,479.5 310.0,478.0 311.3,476.0 312.7,470.9 314.0,470.1 315.3,465.4 316.7,463.8 318.0,460.0 319.5,457.4 321.0,454.3 322.5,449.4 324.0,446.6 325.5,442.5 327.0,436.8 328.5,433.6 330.0,427.5 331.0,418.6 332.0,413.9 333.0,405.0 334.5,397.9 336.0,390.0 336.6,382.1 337.2,380.0 337.8,371.1 338.4,363.9 339.0,360.0 340.2,352.8 341.4,345.5 342.6,340.8 343.8,337.2 345.0,330.0 345.6,326.9 346.2,318.8 346.8,314.2 347.4,308.0 348.0,300.0 348.5,295.2 349.0,286.7 349.5,279.5 350.0,275.0 350.6,266.3 351.2,262.8 351.9,254.0 352.5,250.0 353.4,245.6 354.2,236.1 355.1,231.9 356.0,225.0 356.7,218.7 357.3,212.8 358.0,205.0 359.0,194.4 360.0,190.0 361.3,181.1 362.7,178.4 364.0,170.0 365.0,160.5 366.0,158.4 367.0,150.0 368.0,148.1 369.0,135.5 370.0,130.0 371.0,128.3 372.0,117.9 373.0,110.0 373.7,108.3 374.3,97.0 375.0,90.0 376.3,90.4 377.7,87.1 379.0,78.9 380.3,80.2 381.7,78.5 383.0,75.0 384.7,69.6 386.3,66.9 388.0,60.0 389.0,58.4 390.0,50.4 391.0,40.0 391.2,37.0 391.4,21.4 391.6,21.7 391.8,13.7 392.0,5.0 393.3,5.0 394.6,5.0 395.9,5.0 397.3,5.0 398.6,5.0 399.9,5.0 401.2,5.0 402.5,5.0 403.8,5.0 405.2,5.0 406.5,5.0 407.8,5.0 409.1,5.0 410.4,5.0 411.7,5.0 413.1,5.0 414.4,5.0 415.7,5.0 417.0,5.0 417.2,18.3 417.5,20.0 417.8,19.5 418.1,27.8 418.4,44.1 418.7,42.4 419.0,50.0 419.7,59.2 420.3,64.4 421.0,70.0 421.7,75.5 422.3,82.6 423.0,90.0 423.3,97.4 423.7,108.7 424.0,110.0 424.7,117.0 425.3,126.4 426.0,130.0 426.7,134.6 427.3,145.5 428.0,150.0 428.7,157.7 429.3,165.7 430.0,170.0 430.7,180.2 431.3,179.5 432.0,190.0 433.0,201.7 434.0,205.0 435.8,210.9 437.5,215.0 438.7,220.5 439.8,229.7 441.0,237.5 442.3,241.0 443.7,248.8 445.0,257.5 446.2,266.2 447.5,271.5 448.8,278.8 450.0,282.5 451.2,286.2 452.4,291.9 453.6,299.7 454.8,306.5 456.0,312.5 457.2,320.6 458.5,325.1 459.8,334.5 461.0,340.0 462.0,346.7 463.0,351.4 464.0,360.2 465.0,365.0 465.9,369.2 466.9,377.9 467.8,382.4 468.8,390.0 471.3,395.0 472.6,398.2 474.0,405.0 475.0,411.2 476.0,417.5 477.4,425.1 478.8,432.5 480.6,437.6 482.5,442.0 483.9,443.0 485.2,446.0 486.6,447.0 488.0,447.5 489.4,447.9 490.9,448.8 492.4,452.9 493.8,453.0 495.3,453.2 496.7,452.8 498.2,453.4 499.6,455.3 501.1,454.3 502.5,455.2 504.0,456.0 505.5,456.6 507.0,455.9 508.5,456.8 509.9,457.8 511.4,457.5 512.9,457.2 514.4,457.0 515.9,458.4 517.4,458.7 519.0,460.7 520.5,461.8 522.0,462.5 523.3,463.3 524.7,463.6 526.0,464.9 527.3,464.1 528.7,465.9 530.0,466.0 531.5,467.5 532.9,465.5 534.4,466.4 535.9,468.5 537.3,466.7 538.8,468.0 540.2,469.0 541.7,468.6 543.1,467.6 544.6,469.1 546.0,469.0 547.6,468.4 549.1,471.0 550.7,470.3 552.2,472.4 553.8,472.0 555.2,473.8 556.6,473.0 558.0,474.6 559.4,474.9 560.8,477.2 562.2,476.7 563.6,477.6 565.0,479.4 566.4,480.2 567.8,483.4 569.2,483.8 570.6,485.6 572.1,487.5 573.5,489.3 574.9,490.7 576.3,492.5 577.8,495.5 579.3,496.7 580.8,499.2 582.3,502.1 583.8,503.8 585.3,504.5 586.8,505.6 588.3,507.7 589.8,508.0 591.3,509.4 592.8,510.7 594.2,511.4 595.6,511.5 597.1,512.2 598.5,512.7 600.0,514.0 601.4,514.6 602.9,514.2 604.3,514.2 605.7,514.2 607.1,514.4 608.6,515.3 610.0,515.0 611.4,514.8 612.9,515.6 614.3,516.0 615.7,516.2 617.1,516.4 618.6,516.6 620.0,517.0 621.4,517.1 622.9,518.2 624.3,518.8 625.7,518.8 627.1,518.9 628.6,520.1 630.0,520.0 631.4,520.1 632.7,520.5 634.1,521.5 635.5,522.2 636.8,522.4 638.2,522.3 639.5,523.7 640.9,523.3 642.3,523.9 643.6,525.1 645.0,525.0 646.4,526.0 647.9,526.7 649.3,526.7 650.7,528.2 652.1,528.5 653.6,528.8 655.0,530.0 656.4,531.7 657.9,533.2 659.3,533.9 660.7,535.7 662.1,537.4 663.6,538.5 665.0,540.0 666.4,539.9 667.7,540.2 669.1,540.0 670.5,540.3 671.8,540.2 673.2,540.2 674.5,540.1 675.9,539.8 677.3,540.1 678.6,540.1 680.0,540.0 681.4,537.8 682.9,535.8 684.3,533.4 685.7,531.2 687.1,529.7 688.6,527.0 690.0,525.0 691.5,522.1 693.0,520.6 694.5,517.5 696.0,515.2 697.5,512.3 699.0,510.0 700.5,503.7 702.0,498.2 703.5,493.4 705.0,487.0 706.0,479.2 707.0,473.3 708.0,465.0 708.6,458.5 709.2,454.1 709.8,446.1 710.4,440.8 711.0,435.0 712.0,426.1 713.0,418.4 714.0,412.0 715.5,403.6 717.0,395.0 718.0,387.8 719.0,381.8 720.0,375.0 720.6,367.4 721.2,361.6 721.9,355.3 722.5,350.0 723.3,345.5 724.2,334.3 725.0,330.0 726.9,323.3 728.8,317.5 729.9,311.0 731.0,300.0 731.7,294.2 732.4,285.9 733.1,284.7 733.8,275.0 734.4,265.9 735.0,262.5 736.7,259.0 738.3,257.3 740.0,260.0 741.7,260.4 743.3,264.3 745.0,262.5 747.5,260.0 750.0,262.0 750.8,253.6 751.5,246.9 752.2,244.1 753.0,235.0 753.8,224.6 754.5,217.0 755.2,215.4 756.0,207.0 757.3,197.7 758.7,195.9 760.0,190.0 761.7,180.7 763.3,179.0 765.0,172.0 766.7,169.7 768.3,160.2 770.0,155.0 771.7,146.0 773.3,142.9 775.0,135.0 776.0,130.9 777.0,117.8 778.0,113.4 779.0,110.0 780.5,102.4 782.0,97.6 783.5,88.7 785.0,85.0 786.7,81.9 788.3,72.1 790.0,70.0 790.0,530.0 788.3,529.6 786.7,528.9 785.0,530.0 783.3,530.2 781.7,530.7 780.0,532.5 778.3,531.1 776.7,531.0 775.0,530.0 773.3,530.5 771.7,528.9 770.0,527.5 768.3,527.9 766.7,526.3 765.0,523.8 763.3,522.8 761.7,524.3 760.0,525.0 758.3,524.2 756.7,525.0 755.0,522.5 753.3,521.8 751.7,522.7 750.0,525.0 748.3,521.8 746.7,523.3 745.0,520.0 743.3,520.3 741.7,520.6 740.0,522.5 738.3,523.4 736.7,522.7 735.0,520.0 733.3,522.7 731.7,522.9 730.0,525.0 728.3,526.5 726.7,528.2 725.0,530.0 723.3,531.1 721.7,533.9 720.0,536.0 718.3,538.2 716.7,539.7 715.0,542.5 713.3,545.0 711.7,545.8 710.0,547.5 708.3,549.3 706.7,550.8 705.0,552.5 703.3,553.3 701.7,554.6 700.0,556.0 698.3,556.9 696.7,557.1 695.0,557.5 693.6,557.5 692.3,557.3 690.9,557.6 689.5,557.5 688.2,557.3 686.8,557.7 685.5,557.7 684.1,557.3 682.7,557.8 681.4,557.2 680.0,557.5 678.7,557.7 677.4,557.2 676.1,557.0 674.8,557.2 673.5,557.6 672.2,557.6 670.9,557.2 669.6,556.8 668.3,557.3 667.0,557.5 665.7,557.1 664.3,557.0 663.0,556.7 661.7,557.2 660.4,556.7 659.1,556.8 657.8,557.1 656.5,556.6 655.2,557.1 653.9,556.3 652.6,556.6 651.3,556.1 650.0,556.5 648.7,556.4 647.4,556.1 646.1,556.6 644.8,556.0 643.5,556.4 642.2,556.4 640.9,556.0 639.6,556.0 638.3,555.9 637.0,556.3 635.7,556.2 634.3,556.5 633.0,556.4 631.7,556.6 630.4,556.1 629.1,556.0 627.8,556.5 626.5,555.9 625.2,555.7 623.9,556.1 622.6,556.4 621.3,556.1 620.0,556.0 618.7,556.4 617.3,556.5 616.0,556.4 614.7,556.6 613.3,556.5 612.0,556.0 610.7,556.8 609.3,556.8 608.0,556.8 606.7,556.5 605.3,556.9 604.0,556.5 602.7,556.5 601.3,556.6 600.0,557.0 598.6,557.5 597.2,557.1 595.8,557.0 594.4,557.6 593.1,557.6 591.7,557.5 590.3,557.4 588.9,557.1 587.5,557.5 586.1,557.4 584.7,557.1 583.3,557.1 581.9,556.3 580.6,556.3 579.2,555.5 577.8,555.1 576.4,555.4 575.0,555.0 573.6,555.1 572.1,554.6 570.7,553.7 569.3,554.0 567.9,553.6 566.4,553.2 565.0,552.5 563.6,552.3 562.1,552.2 560.7,552.3 559.3,552.3 557.9,551.9 556.4,550.8 555.0,551.0 553.6,550.5 552.1,551.1 550.7,551.3 549.3,550.2 547.9,551.0 546.4,549.6 545.0,550.0 543.6,550.4 542.1,549.7 540.7,548.8 539.3,549.0 537.9,549.3 536.4,548.9 535.0,548.8 533.6,548.6 532.1,548.8 530.7,548.9 529.3,547.5 527.9,547.7 526.4,548.0 525.0,547.5 523.6,547.9 522.1,548.1 520.7,549.1 519.3,548.7 517.9,549.4 516.4,549.8 515.0,550.0 513.6,549.7 512.1,550.6 510.7,550.0 509.3,550.3 507.9,550.1 506.4,550.2 505.0,551.0 503.6,551.2 502.1,551.0 500.7,549.9 499.3,550.0 497.9,550.1 496.4,550.5 495.0,550.0 493.5,549.3 492.0,549.5 490.5,548.9 489.0,547.8 487.5,547.5 486.0,547.6 484.5,547.2 483.0,546.4 481.5,545.0 480.0,545.0 478.3,543.9 476.7,543.6 475.0,542.5 473.3,542.0 471.7,540.2 470.0,538.8 468.3,536.8 466.7,537.5 465.0,535.0 463.3,534.4 461.7,532.3 460.0,532.5 458.3,531.0 456.7,529.2 455.0,527.5 453.3,525.8 451.7,523.8 450.0,520.0 448.3,521.8 446.7,520.1 445.0,522.5 443.3,518.2 441.7,517.6 440.0,515.0 438.3,515.3 436.7,513.3 435.0,510.0 433.3,506.5 431.7,506.5 430.0,502.5 428.3,501.1 426.7,500.1 425.0,496.0 423.3,495.4 421.7,492.9 420.0,492.5 418.3,489.6 416.7,484.9 415.0,482.5 413.3,478.4 411.7,478.9 410.0,477.5 408.7,477.5 407.3,472.3 406.0,472.5 403.8,466.0 401.9,469.3 400.0,476.0 398.3,475.9 396.7,480.4 395.0,480.0 393.3,480.2 391.7,482.6 390.0,482.5 388.3,483.5 386.7,489.3 385.0,488.8 383.3,485.2 381.7,489.9 380.0,487.5 378.3,490.2 376.7,491.6 375.0,492.5 373.6,496.1 372.1,492.2 370.7,494.3 369.3,494.3 367.9,500.4 366.4,499.4 365.0,500.0 363.6,501.5 362.1,502.1 360.7,502.2 359.3,504.5 357.9,506.0 356.4,509.0 355.0,510.0 353.3,512.3 351.7,514.7 350.0,520.0 348.6,521.1 347.1,521.9 345.7,525.1 344.3,528.5 342.9,529.8 341.4,531.3 340.0,532.5 338.6,534.5 337.1,536.0 335.7,536.6 334.3,537.9 332.9,537.6 331.4,538.1 330.0,540.0 328.6,541.4 327.1,542.6 325.7,543.1 324.3,544.4 322.9,543.8 321.4,544.4 320.0,546.0 318.6,545.9 317.1,547.1 315.7,548.5 314.3,549.1 312.9,549.0 311.4,550.2 310.0,551.0 308.6,551.4 307.1,552.2 305.7,551.9 304.3,552.9 302.9,552.7 301.4,553.9 300.0,553.8 298.6,553.7 297.1,552.5 295.7,553.2 294.3,552.7 292.9,551.4 291.4,551.0 290.0,551.0 288.6,551.1 287.1,550.4 285.7,549.1 284.3,549.4 282.9,549.0 281.4,547.7 280.0,547.5 278.6,547.0 277.1,545.9 275.7,545.8 274.3,544.3 272.9,544.2 271.4,542.8 270.0,542.5 268.6,542.3 267.1,539.5 265.7,540.3 264.3,538.4 262.9,538.4 261.4,537.1 260.0,536.0 258.6,535.2 257.1,533.9 255.7,534.4 254.3,531.4 252.9,530.6 251.4,531.8 250.0,530.0 248.6,529.1 247.1,528.2 245.7,529.4 244.3,528.6 242.9,528.9 241.4,529.3 240.0,528.8 238.6,530.0 237.1,529.6 235.7,530.1 234.3,532.0 232.9,530.2 231.4,532.5 230.0,532.5 228.6,533.5 227.1,534.9 225.7,534.9 224.3,536.2 222.9,538.2 221.4,539.9 220.0,540.0 218.6,540.6 217.1,543.5 215.7,543.7 214.3,546.1 212.9,547.2 211.4,548.9 210.0,550.0 208.6,551.3 207.1,552.2 205.7,552.4 204.3,553.5 202.9,554.3 201.4,554.8 200.0,556.0 198.3,557.8 196.7,560.2 195.0,562.0 193.6,562.9 192.1,563.5 190.7,564.2 189.3,564.9 187.9,565.7 186.4,566.3 185.0,567.0 183.7,567.0 182.4,567.1 181.1,567.1 179.8,567.0 178.4,567.0 177.1,567.1 175.8,567.0 174.5,567.1 173.2,567.1 171.9,567.1 170.6,567.1 169.3,567.1 168.0,567.1 166.7,567.1 165.3,567.1 164.0,567.2 162.7,567.2 161.4,567.2 160.1,567.2 158.8,567.2 157.5,567.2 156.2,567.2 154.9,567.3 153.5,567.2 152.2,567.2 150.9,567.3 149.6,567.3 148.3,567.3 147.0,567.3 145.7,567.3 144.4,567.3 143.1,567.3 141.8,567.3 140.4,567.4 139.1,567.4 137.8,567.4 136.5,567.4 135.2,567.4 133.9,567.4 132.6,567.4 131.3,567.4 130.0,567.4 128.6,567.4 127.3,567.5 126.0,567.5 124.7,567.5 123.4,567.5 122.1,567.5 120.8,567.5 119.5,567.5 118.2,567.5 116.9,567.6 115.5,567.5 114.2,567.6 112.9,567.6 111.6,567.6 110.3,567.6 109.0,567.6 107.7,567.6 106.4,567.6 105.1,567.6 103.7,567.6 102.4,567.7 101.1,567.7 99.8,567.7 98.5,567.7 97.2,567.7 95.9,567.7 94.6,567.7 93.3,567.7 92.0,567.8 90.6,567.8 89.3,567.8 88.0,567.8 86.7,567.8 85.4,567.8 84.1,567.8 82.8,567.8 81.5,567.8 80.2,567.8 78.8,567.8 77.5,567.9 76.2,567.9 74.9,567.9 73.6,567.9 72.3,567.9 71.0,567.9 69.7,567.9 68.4,567.9 67.1,567.9 65.7,567.9 64.4,568.0 63.1,568.0 61.8,568.0 60.5,568.0" fill="#1f77b4" fill-opacity="0.1" stroke="#1f77b4" stroke-opacity="0.1" stroke-width="1"/>
<line x1="750.6" x2="750.6" y1="15.5" y2="568.5" stroke="#1f77b4" stroke-opacity="0.12" stroke-width="1.4"/>
<line x1="60.5" x2="785.5" y1="449.50" y2="449.50" stroke="#b0b0b0" stroke-width="1"/>
<line x1="60.5" x2="785.5" y1="329.50" y2="329.50" stroke="#b0b0b0" stroke-width="1"/>
<line x1="60.5" x2="785.5" y1="209.50" y2="209.50" stroke="#b0b0b0" stroke-width="1"/>
<line x1="60.5" x2="785.5" y1="89.50" y2="89.50" stroke="#b0b0b0" stroke-width="1"/>
<polyline points="60.5,566.0 61.8,565.9 63.0,565.7 64.3,565.3 65.6,565.2 66.9,565.1 68.1,564.9 69.4,564.7 70.7,564.4 72.0,564.3 73.2,564.1 74.5,563.9 75.8,563.6 77.1,563.5 78.3,563.3 79.6,563.2 80.9,563.0 82.2,562.8 83.4,562.5 84.7,562.3 86.0,562.1 87.3,561.8 88.5,561.6 89.8,561.5 91.1,561.3 92.4,561.1 93.6,561.1 94.9,560.8 96.2,560.6 97.5,560.3 98.7,560.0 100.0,560.0 101.3,560.0 102.6,560.0 103.9,560.3 105.2,560.5 106.5,560.5 107.8,560.4 109.1,560.7 110.4,560.8 111.7,560.9 113.0,561.0 114.3,561.0 115.7,561.1 117.0,561.1 118.3,561.4 119.6,561.5 120.9,561.3 122.2,561.6 123.5,561.6 124.8,561.6 126.1,561.7 127.4,561.8 128.7,562.0 130.0,562.0 131.3,562.0 132.6,562.0 133.9,561.8 135.2,561.9 136.5,561.9 137.8,561.7 139.1,561.7 140.4,561.8 141.7,561.7 143.0,561.6 144.3,561.4 145.7,561.4 147.0,561.5 148.3,561.3 149.6,561.5 150.9,561.2 152.2,561.4 153.5,561.2 154.8,561.3 156.1,561.2 157.4,561.1 158.7,561.0 160.0,561.0 161.3,561.0 162.6,560.9 163.9,560.8 165.3,560.7 166.6,560.7 167.9,560.8 169.2,560.7 170.5,560.4 171.8,560.6 173.2,560.6 174.5,560.6 175.8,560.3 177.1,560.4 178.4,560.1 179.7,560.3 181.1,560.1 182.4,560.0 183.7,560.2 185.0,560.0 186.5,559.9 188.0,560.0 189.5,560.1 191.0,559.9 192.5,560.0 194.2,558.2 195.8,556.9 197.5,555.0 199.2,552.9 200.8,551.0 202.5,548.8 204.4,545.8 206.2,543.8 207.5,546.2 210.0,540.0 211.9,534.8 213.8,530.0 215.6,523.1 217.5,517.5 219.4,511.7 221.2,505.0 223.8,495.0 226.2,482.5 228.8,470.0 230.0,453.8 231.2,462.5 232.5,455.0 233.8,461.2 235.0,453.8 237.5,456.2 240.0,451.2 242.5,453.8 243.8,450.0 245.0,456.2 247.5,460.0 250.0,463.8 252.5,466.2 255.0,472.5 257.5,480.0 260.0,485.0 261.2,496.2 262.5,485.0 263.8,492.5 266.2,496.2 268.8,501.2 271.2,507.5 273.1,509.0 275.0,512.5 276.9,514.8 278.8,515.0 281.2,517.5 283.1,517.8 285.0,520.0 286.9,521.7 288.8,522.5 291.2,526.2 292.5,528.8 294.4,528.6 296.2,530.0 298.1,529.0 300.0,528.8 302.5,531.2 303.8,532.5 306.2,528.8 308.8,530.0 311.2,525.0 313.8,523.8 315.0,520.0 317.5,522.5 320.0,516.2 321.9,516.3 323.8,515.0 325.6,511.7 327.5,510.0 330.0,502.5 332.5,495.0 335.0,485.0 337.5,477.5 340.0,470.0 342.5,462.5 345.0,450.0 347.5,440.0 350.0,430.0 352.5,415.0 353.8,407.5 356.2,405.0 358.8,406.2 360.0,396.0 361.0,384.0 363.0,388.0 365.0,380.0 367.0,374.0 368.0,364.0 370.0,376.0 372.0,352.0 374.0,340.0 376.0,382.0 378.0,338.0 380.0,332.0 382.0,344.0 384.0,330.0 386.0,340.0 388.0,320.0 390.0,340.0 392.0,328.0 393.0,342.0 394.0,324.0 396.0,336.0 398.0,314.0 400.0,330.0 401.0,340.0 402.0,296.0 403.0,298.0 404.0,314.0 406.0,306.0 407.0,312.0 409.0,310.0 411.0,314.0 413.0,328.0 415.0,344.0 416.0,356.0 417.0,330.0 418.0,358.0 420.0,330.0 421.0,340.0 422.0,358.0 424.0,376.0 425.0,378.0 426.0,366.0 428.0,370.0 429.0,384.0 430.0,392.0 432.0,398.0 434.0,400.0 436.2,408.8 437.5,402.5 440.0,415.0 442.5,425.0 445.0,440.0 447.5,423.8 448.8,425.0 450.0,437.5 452.5,441.2 453.8,450.0 456.2,457.5 458.8,461.2 461.2,472.5 463.8,475.0 465.0,480.0 466.9,481.4 468.8,485.0 471.2,491.2 473.8,495.0 476.2,502.5 478.8,498.8 481.2,510.0 483.8,511.2 486.2,515.0 488.1,515.7 490.0,515.5 491.9,516.0 493.8,517.0 495.6,516.9 497.5,518.8 499.4,520.4 501.2,520.0 503.1,517.4 505.0,516.2 507.5,518.8 509.4,519.1 511.2,521.2 513.1,522.2 515.0,523.8 516.2,519.5 518.1,519.0 520.0,518.0 521.9,519.7 523.8,520.5 525.6,519.2 527.5,519.5 529.4,520.1 531.2,521.2 533.1,521.0 535.0,522.5 537.5,517.5 538.8,525.0 541.2,518.8 543.8,522.0 545.6,522.8 547.5,523.8 550.0,525.0 551.2,520.0 553.8,523.8 555.6,524.6 557.5,524.5 559.4,525.8 561.2,526.2 563.1,528.2 565.0,528.8 567.5,530.0 569.4,529.8 571.2,528.8 573.8,532.5 575.6,534.9 577.5,536.2 579.4,536.9 581.2,537.0 583.1,536.6 585.0,536.2 586.9,537.8 588.8,540.0 590.6,542.1 592.5,543.8 594.4,543.9 596.2,544.5 598.1,543.7 600.0,543.8 601.2,543.8 603.8,545.0 605.6,543.9 607.5,543.0 609.4,545.0 611.2,546.2 613.1,544.6 615.0,543.8 616.9,543.2 618.8,542.5 620.6,543.6 622.5,545.0 624.4,544.8 626.2,544.5 628.1,543.1 630.0,542.5 631.9,544.0 633.8,544.5 635.6,543.9 637.5,543.8 639.4,544.2 641.2,544.5 643.1,544.7 645.0,545.0 646.7,545.4 648.3,546.7 650.0,547.5 651.7,548.0 653.3,548.8 655.0,550.0 656.6,550.0 658.1,550.4 659.7,550.6 661.2,551.2 662.9,551.9 664.6,552.4 666.2,553.0 668.1,554.1 670.0,554.5 671.7,554.1 673.3,553.5 675.0,552.5 676.7,552.1 678.3,552.1 680.0,552.0 681.7,551.2 683.3,550.7 685.0,550.0 686.9,549.1 688.8,548.0 690.6,546.8 692.5,545.0 694.4,542.7 696.2,540.0 698.1,536.6 700.0,533.8 701.9,529.9 703.8,526.2 705.6,521.3 707.5,516.2 709.4,509.5 711.2,505.0 713.1,497.4 715.0,492.5 717.5,482.5 720.0,472.5 721.2,482.5 722.5,467.5 723.8,457.5 726.2,465.0 727.5,453.8 728.8,447.5 730.0,452.5 731.2,443.8 733.8,445.0 736.2,433.8 737.5,441.2 740.0,432.5 742.5,436.2 744.2,428.8 746.2,445.0 747.5,447.5 750.0,432.5 752.5,438.8 755.0,440.0 757.5,421.2 760.0,437.5 762.5,425.0 765.0,432.5 767.5,430.0 770.0,417.5 772.5,440.0 773.8,445.0 776.2,432.5 778.8,435.0 780.0,427.5 782.5,433.8 784.5,445.0 785.5,432.5" fill="none" stroke="#1f77b4" stroke-width="2.08" stroke-linejoin="round" stroke-linecap="butt"/>
<line x1="749" x2="749" y1="568.5" y2="15.5" stroke="#1f77b4" stroke-opacity="0.6" stroke-width="2.08" stroke-dasharray="7.7 3.33"/>
<g fill="#ff7f0e">
<circle cx="97.5" cy="518.0" r="4.9"/>
<circle cx="94.5" cy="526.2" r="4.9"/>
<circle cx="99.2" cy="537.5" r="4.9"/>
<circle cx="98.2" cy="541.2" r="4.9"/>
<circle cx="107.5" cy="539.2" r="4.9"/>
<circle cx="115.5" cy="541.2" r="4.9"/>
<circle cx="103.0" cy="552.0" r="4.9"/>
<circle cx="122.5" cy="552.5" r="4.9"/>
<circle cx="153.8" cy="551.2" r="4.9"/>
<circle cx="160.0" cy="547.5" r="4.9"/>
<circle cx="167.5" cy="551.2" r="4.9"/>
<circle cx="174.2" cy="545.8" r="4.9"/>
<circle cx="178.2" cy="539.2" r="4.9"/>
<circle cx="187.2" cy="545.8" r="4.9"/>
<circle cx="193.0" cy="528.2" r="4.9"/>
<circle cx="196.2" cy="541.2" r="4.9"/>
<circle cx="201.8" cy="533.8" r="4.9"/>
<circle cx="192.5" cy="552.5" r="4.9"/>
<circle cx="200.2" cy="508.2" r="4.9"/>
<circle cx="211.2" cy="508.2" r="4.9"/>
<circle cx="212.5" cy="515.0" r="4.9"/>
<circle cx="217.5" cy="492.5" r="4.9"/>
<circle cx="228.0" cy="493.2" r="4.9"/>
<circle cx="210.0" cy="481.2" r="4.9"/>
<circle cx="216.2" cy="481.2" r="4.9"/>
<circle cx="213.8" cy="473.2" r="4.9"/>
<circle cx="210.0" cy="465.5" r="4.9"/>
<circle cx="206.2" cy="460.0" r="4.9"/>
<circle cx="203.0" cy="457.5" r="4.9"/>
<circle cx="221.2" cy="465.0" r="4.9"/>
<circle cx="225.0" cy="473.2" r="4.9"/>
<circle cx="220.8" cy="458.8" r="4.9"/>
<circle cx="220.0" cy="452.5" r="4.9"/>
<circle cx="226.2" cy="447.5" r="4.9"/>
<circle cx="224.2" cy="430.5" r="4.9"/>
<circle cx="231.2" cy="420.5" r="4.9"/>
<circle cx="230.0" cy="404.2" r="4.9"/>
<circle cx="233.8" cy="432.5" r="4.9"/>
<circle cx="235.0" cy="437.5" r="4.9"/>
<circle cx="240.0" cy="435.0" r="4.9"/>
<circle cx="238.8" cy="442.5" r="4.9"/>
<circle cx="243.8" cy="441.2" r="4.9"/>
<circle cx="247.5" cy="432.5" r="4.9"/>
<circle cx="237.5" cy="448.8" r="4.9"/>
<circle cx="242.5" cy="452.5" r="4.9"/>
<circle cx="239.2" cy="468.8" r="4.9"/>
<circle cx="235.0" cy="473.8" r="4.9"/>
<circle cx="243.2" cy="484.2" r="4.9"/>
<circle cx="247.5" cy="458.8" r="4.9"/>
<circle cx="248.8" cy="473.8" r="4.9"/>
<circle cx="191.2" cy="569.2" r="4.9"/>
<circle cx="197.5" cy="569.2" r="4.9"/>
<circle cx="202.5" cy="569.2" r="4.9"/>
<circle cx="207.5" cy="569.2" r="4.9"/>
<circle cx="257.5" cy="402.5" r="4.9"/>
<circle cx="253.8" cy="432.5" r="4.9"/>
<circle cx="259.5" cy="431.2" r="4.9"/>
<circle cx="241.2" cy="440.0" r="4.9"/>
<circle cx="246.2" cy="442.5" r="4.9"/>
<circle cx="240.0" cy="448.8" r="4.9"/>
<circle cx="261.2" cy="441.2" r="4.9"/>
<circle cx="266.2" cy="438.8" r="4.9"/>
<circle cx="257.5" cy="445.0" r="4.9"/>
<circle cx="266.2" cy="450.0" r="4.9"/>
<circle cx="261.2" cy="452.5" r="4.9"/>
<circle cx="255.0" cy="455.0" r="4.9"/>
<circle cx="250.0" cy="456.2" r="4.9"/>
<circle cx="208.8" cy="462.5" r="4.9"/>
<circle cx="262.5" cy="466.2" r="4.9"/>
<circle cx="275.0" cy="465.5" r="4.9"/>
<circle cx="281.2" cy="471.2" r="4.9"/>
<circle cx="272.5" cy="475.0" r="4.9"/>
<circle cx="273.2" cy="481.2" r="4.9"/>
<circle cx="283.2" cy="486.8" r="4.9"/>
<circle cx="267.5" cy="495.0" r="4.9"/>
<circle cx="271.2" cy="498.8" r="4.9"/>
<circle cx="275.0" cy="496.2" r="4.9"/>
<circle cx="280.0" cy="496.2" r="4.9"/>
<circle cx="285.0" cy="495.0" r="4.9"/>
<circle cx="291.2" cy="493.8" r="4.9"/>
<circle cx="301.8" cy="490.5" r="4.9"/>
<circle cx="283.8" cy="501.2" r="4.9"/>
<circle cx="287.5" cy="502.5" r="4.9"/>
<circle cx="292.5" cy="501.2" r="4.9"/>
<circle cx="295.0" cy="502.5" r="4.9"/>
<circle cx="275.0" cy="507.5" r="4.9"/>
<circle cx="298.8" cy="510.0" r="4.9"/>
<circle cx="303.8" cy="511.2" r="4.9"/>
<circle cx="309.2" cy="502.5" r="4.9"/>
<circle cx="312.5" cy="500.0" r="4.9"/>
<circle cx="313.8" cy="510.0" r="4.9"/>
<circle cx="305.0" cy="516.2" r="4.9"/>
<circle cx="288.8" cy="515.5" r="4.9"/>
<circle cx="280.0" cy="517.5" r="4.9"/>
<circle cx="296.2" cy="522.5" r="4.9"/>
<circle cx="286.2" cy="522.5" r="4.9"/>
<circle cx="277.5" cy="523.8" r="4.9"/>
<circle cx="268.8" cy="525.0" r="4.9"/>
<circle cx="261.2" cy="526.2" r="4.9"/>
<circle cx="323.2" cy="519.2" r="4.9"/>
<circle cx="332.5" cy="506.2" r="4.9"/>
<circle cx="341.2" cy="481.2" r="4.9"/>
<circle cx="349.2" cy="446.2" r="4.9"/>
<circle cx="367.5" cy="453.0" r="4.9"/>
<circle cx="376.2" cy="413.0" r="4.9"/>
<circle cx="358.8" cy="412.5" r="4.9"/>
<circle cx="360.0" cy="402.5" r="4.9"/>
<circle cx="355.0" cy="402.5" r="4.9"/>
<circle cx="350.0" cy="402.5" r="4.9"/>
<circle cx="330.0" cy="406.2" r="4.9"/>
<circle cx="336.2" cy="407.5" r="4.9"/>
<circle cx="338.8" cy="411.2" r="4.9"/>
<circle cx="344.2" cy="413.8" r="4.9"/>
<circle cx="327.5" cy="421.2" r="4.9"/>
<circle cx="339.5" cy="421.2" r="4.9"/>
<circle cx="343.8" cy="426.2" r="4.9"/>
<circle cx="322.5" cy="440.0" r="4.9"/>
<circle cx="321.2" cy="445.0" r="4.9"/>
<circle cx="328.8" cy="446.2" r="4.9"/>
<circle cx="318.8" cy="451.2" r="4.9"/>
<circle cx="311.2" cy="456.2" r="4.9"/>
<circle cx="316.2" cy="461.2" r="4.9"/>
<circle cx="330.0" cy="457.5" r="4.9"/>
<circle cx="333.8" cy="459.2" r="4.9"/>
<circle cx="324.2" cy="467.5" r="4.9"/>
<circle cx="317.0" cy="471.2" r="4.9"/>
<circle cx="310.0" cy="473.2" r="4.9"/>
<circle cx="200.0" cy="537.5" r="4.9"/>
<circle cx="305.5" cy="541.2" r="4.9"/>
<circle cx="297.5" cy="551.2" r="4.9"/>
<circle cx="252.0" cy="569.2" r="4.9"/>
<circle cx="398.8" cy="569.2" r="4.9"/>
<circle cx="421.5" cy="437.5" r="4.9"/>
<circle cx="437.5" cy="436.2" r="4.9"/>
<circle cx="457.5" cy="431.2" r="4.9"/>
<circle cx="480.0" cy="417.0" r="4.9"/>
<circle cx="475.0" cy="420.5" r="4.9"/>
<circle cx="470.8" cy="423.8" r="4.9"/>
<circle cx="476.2" cy="433.8" r="4.9"/>
<circle cx="473.8" cy="442.5" r="4.9"/>
<circle cx="478.8" cy="446.2" r="4.9"/>
<circle cx="487.5" cy="447.0" r="4.9"/>
<circle cx="484.5" cy="452.5" r="4.9"/>
<circle cx="564.2" cy="411.2" r="4.9"/>
<circle cx="573.2" cy="439.2" r="4.9"/>
<circle cx="591.2" cy="438.2" r="4.9"/>
<circle cx="438.2" cy="466.2" r="4.9"/>
<circle cx="456.2" cy="465.5" r="4.9"/>
<circle cx="495.0" cy="460.0" r="4.9"/>
<circle cx="503.2" cy="458.8" r="4.9"/>
<circle cx="493.8" cy="464.5" r="4.9"/>
<circle cx="511.8" cy="464.5" r="4.9"/>
<circle cx="513.8" cy="467.0" r="4.9"/>
<circle cx="522.5" cy="460.0" r="4.9"/>
<circle cx="530.5" cy="453.2" r="4.9"/>
<circle cx="531.8" cy="459.2" r="4.9"/>
<circle cx="540.0" cy="460.0" r="4.9"/>
<circle cx="537.5" cy="467.0" r="4.9"/>
<circle cx="549.2" cy="466.2" r="4.9"/>
<circle cx="558.2" cy="458.2" r="4.9"/>
<circle cx="582.0" cy="459.5" r="4.9"/>
<circle cx="575.8" cy="464.5" r="4.9"/>
<circle cx="489.2" cy="472.5" r="4.9"/>
<circle cx="504.5" cy="471.2" r="4.9"/>
<circle cx="521.8" cy="479.5" r="4.9"/>
<circle cx="530.0" cy="477.5" r="4.9"/>
<circle cx="533.8" cy="481.2" r="4.9"/>
<circle cx="542.5" cy="477.5" r="4.9"/>
<circle cx="546.2" cy="481.2" r="4.9"/>
<circle cx="550.0" cy="482.5" r="4.9"/>
<circle cx="560.0" cy="482.5" r="4.9"/>
<circle cx="567.5" cy="485.0" r="4.9"/>
<circle cx="598.8" cy="480.5" r="4.9"/>
<circle cx="498.8" cy="485.0" r="4.9"/>
<circle cx="497.5" cy="491.2" r="4.9"/>
<circle cx="482.5" cy="490.0" r="4.9"/>
<circle cx="447.5" cy="495.0" r="4.9"/>
<circle cx="465.5" cy="502.0" r="4.9"/>
<circle cx="507.5" cy="493.8" r="4.9"/>
<circle cx="520.0" cy="491.2" r="4.9"/>
<circle cx="511.2" cy="496.2" r="4.9"/>
<circle cx="516.2" cy="495.0" r="4.9"/>
<circle cx="523.8" cy="497.0" r="4.9"/>
<circle cx="506.2" cy="500.0" r="4.9"/>
<circle cx="512.5" cy="501.2" r="4.9"/>
<circle cx="535.0" cy="488.8" r="4.9"/>
<circle cx="540.0" cy="486.2" r="4.9"/>
<circle cx="545.0" cy="486.2" r="4.9"/>
<circle cx="552.5" cy="487.5" r="4.9"/>
<circle cx="557.5" cy="488.8" r="4.9"/>
<circle cx="551.2" cy="492.5" r="4.9"/>
<circle cx="557.5" cy="493.8" r="4.9"/>
<circle cx="568.8" cy="494.5" r="4.9"/>
<circle cx="535.0" cy="498.0" r="4.9"/>
<circle cx="560.5" cy="500.0" r="4.9"/>
<circle cx="585.0" cy="498.8" r="4.9"/>
<circle cx="592.5" cy="499.5" r="4.9"/>
<circle cx="593.8" cy="507.5" r="4.9"/>
<circle cx="585.0" cy="510.0" r="4.9"/>
<circle cx="499.2" cy="506.2" r="4.9"/>
<circle cx="490.5" cy="511.2" r="4.9"/>
<circle cx="517.5" cy="512.5" r="4.9"/>
<circle cx="525.0" cy="511.2" r="4.9"/>
<circle cx="544.2" cy="512.5" r="4.9"/>
<circle cx="553.2" cy="515.5" r="4.9"/>
<circle cx="575.0" cy="516.2" r="4.9"/>
<circle cx="578.8" cy="518.0" r="4.9"/>
<circle cx="587.5" cy="522.5" r="4.9"/>
<circle cx="596.2" cy="518.8" r="4.9"/>
<circle cx="597.5" cy="525.0" r="4.9"/>
<circle cx="508.2" cy="521.2" r="4.9"/>
<circle cx="474.5" cy="525.0" r="4.9"/>
<circle cx="526.2" cy="543.2" r="4.9"/>
<circle cx="436.2" cy="569.2" r="4.9"/>
<circle cx="445.0" cy="569.2" r="4.9"/>
<circle cx="466.2" cy="569.2" r="4.9"/>
<circle cx="483.2" cy="569.2" r="4.9"/>
<circle cx="492.5" cy="569.2" r="4.9"/>
<circle cx="501.2" cy="569.2" r="4.9"/>
<circle cx="509.2" cy="569.2" r="4.9"/>
<circle cx="518.0" cy="569.2" r="4.9"/>
<circle cx="527.0" cy="569.2" r="4.9"/>
<circle cx="536.2" cy="569.2" r="4.9"/>
<circle cx="545.0" cy="569.2" r="4.9"/>
<circle cx="553.8" cy="569.2" r="4.9"/>
<circle cx="562.5" cy="569.2" r="4.9"/>
<circle cx="571.2" cy="569.2" r="4.9"/>
<circle cx="580.0" cy="569.2" r="4.9"/>
<circle cx="588.8" cy="569.2" r="4.9"/>
<circle cx="597.5" cy="569.2" r="4.9"/>
<circle cx="716.2" cy="405.0" r="4.9"/>
<circle cx="721.2" cy="406.2" r="4.9"/>
<circle cx="718.2" cy="416.2" r="4.9"/>
<circle cx="738.2" cy="422.5" r="4.9"/>
<circle cx="706.8" cy="438.8" r="4.9"/>
<circle cx="711.2" cy="442.5" r="4.9"/>
<circle cx="710.5" cy="463.2" r="4.9"/>
<circle cx="617.5" cy="479.5" r="4.9"/>
<circle cx="609.5" cy="487.5" r="4.9"/>
<circle cx="626.2" cy="488.8" r="4.9"/>
<circle cx="636.8" cy="498.2" r="4.9"/>
<circle cx="697.5" cy="483.2" r="4.9"/>
<circle cx="709.2" cy="483.2" r="4.9"/>
<circle cx="700.8" cy="490.0" r="4.9"/>
<circle cx="708.2" cy="492.5" r="4.9"/>
<circle cx="688.8" cy="497.5" r="4.9"/>
<circle cx="702.5" cy="501.2" r="4.9"/>
<circle cx="681.2" cy="507.5" r="4.9"/>
<circle cx="662.0" cy="510.0" r="4.9"/>
<circle cx="644.5" cy="512.5" r="4.9"/>
<circle cx="653.2" cy="514.5" r="4.9"/>
<circle cx="610.8" cy="513.0" r="4.9"/>
<circle cx="620.5" cy="511.2" r="4.9"/>
<circle cx="600.0" cy="517.5" r="4.9"/>
<circle cx="700.0" cy="510.0" r="4.9"/>
<circle cx="701.2" cy="512.5" r="4.9"/>
<circle cx="692.5" cy="518.8" r="4.9"/>
<circle cx="603.8" cy="523.8" r="4.9"/>
<circle cx="618.8" cy="522.5" r="4.9"/>
<circle cx="629.5" cy="522.5" r="4.9"/>
<circle cx="600.0" cy="530.0" r="4.9"/>
<circle cx="612.5" cy="528.8" r="4.9"/>
<circle cx="622.5" cy="526.2" r="4.9"/>
<circle cx="638.2" cy="527.5" r="4.9"/>
<circle cx="690.0" cy="525.0" r="4.9"/>
<circle cx="694.5" cy="530.0" r="4.9"/>
<circle cx="613.8" cy="533.8" r="4.9"/>
<circle cx="628.8" cy="532.5" r="4.9"/>
<circle cx="641.2" cy="531.2" r="4.9"/>
<circle cx="632.0" cy="536.2" r="4.9"/>
<circle cx="646.2" cy="536.2" r="4.9"/>
<circle cx="664.5" cy="532.5" r="4.9"/>
<circle cx="671.2" cy="537.0" r="4.9"/>
<circle cx="684.5" cy="535.0" r="4.9"/>
<circle cx="682.5" cy="538.8" r="4.9"/>
<circle cx="648.8" cy="542.5" r="4.9"/>
<circle cx="663.8" cy="541.2" r="4.9"/>
<circle cx="652.5" cy="546.2" r="4.9"/>
<circle cx="657.5" cy="547.5" r="4.9"/>
<circle cx="666.2" cy="548.8" r="4.9"/>
<circle cx="671.2" cy="546.2" r="4.9"/>
<circle cx="676.2" cy="547.5" r="4.9"/>
<circle cx="672.5" cy="550.0" r="4.9"/>
<circle cx="606.2" cy="569.2" r="4.9"/>
<circle cx="615.0" cy="569.2" r="4.9"/>
<circle cx="623.8" cy="569.2" r="4.9"/>
<circle cx="632.5" cy="569.2" r="4.9"/>
<circle cx="641.2" cy="569.2" r="4.9"/>
<circle cx="650.0" cy="569.2" r="4.9"/>
<circle cx="658.8" cy="569.2" r="4.9"/>
<circle cx="667.5" cy="569.2" r="4.9"/>
<circle cx="677.5" cy="569.2" r="4.9"/>
<circle cx="686.2" cy="569.2" r="4.9"/>
<circle cx="695.0" cy="569.2" r="4.9"/>
<circle cx="703.8" cy="569.2" r="4.9"/>
<circle cx="713.8" cy="569.2" r="4.9"/>
<circle cx="722.5" cy="569.2" r="4.9"/>
<circle cx="731.2" cy="569.2" r="4.9"/>
<circle cx="740.0" cy="569.2" r="4.9"/>
<circle cx="229.5" cy="393.8" r="4.9"/>
<circle cx="257.5" cy="400.0" r="4.9"/>
<circle cx="733.2" cy="243.2" r="4.9"/>
<circle cx="735.2" cy="277.5" r="4.9"/>
<circle cx="742.5" cy="312.5" r="4.9"/>
<circle cx="743.2" cy="321.2" r="4.9"/>
<circle cx="744.5" cy="323.8" r="4.9"/>
<circle cx="746.2" cy="330.5" r="4.9"/>
<circle cx="724.2" cy="343.2" r="4.9"/>
<circle cx="734.5" cy="352.0" r="4.9"/>
<circle cx="715.0" cy="360.0" r="4.9"/>
<circle cx="747.5" cy="369.2" r="4.9"/>
<circle cx="737.5" cy="378.2" r="4.9"/>
<circle cx="729.2" cy="381.2" r="4.9"/>
<circle cx="719.5" cy="390.0" r="4.9"/>
<circle cx="727.5" cy="387.5" r="4.9"/>
<circle cx="728.0" cy="392.5" r="4.9"/>
<circle cx="416.4" cy="18.4" r="4.9"/>
<circle cx="414.2" cy="86.4" r="4.9"/>
<circle cx="400.2" cy="90.4" r="4.9"/>
<circle cx="409.4" cy="111.4" r="4.9"/>
<circle cx="417.4" cy="131.0" r="4.9"/>
<circle cx="423.4" cy="137.4" r="4.9"/>
<circle cx="391.0" cy="141.0" r="4.9"/>
<circle cx="388.0" cy="142.4" r="4.9"/>
<circle cx="398.4" cy="144.4" r="4.9"/>
<circle cx="408.2" cy="156.4" r="4.9"/>
<circle cx="432.4" cy="157.4" r="4.9"/>
<circle cx="380.4" cy="163.4" r="4.9"/>
<circle cx="396.4" cy="175.4" r="4.9"/>
<circle cx="405.4" cy="183.4" r="4.9"/>
<circle cx="418.4" cy="189.4" r="4.9"/>
<circle cx="390.4" cy="199.0" r="4.9"/>
<circle cx="383.0" cy="204.0" r="4.9"/>
<circle cx="450.4" cy="200.4" r="4.9"/>
<circle cx="441.4" cy="206.0" r="4.9"/>
<circle cx="395.4" cy="224.4" r="4.9"/>
<circle cx="407.4" cy="226.0" r="4.9"/>
<circle cx="424.0" cy="225.4" r="4.9"/>
<circle cx="427.0" cy="228.0" r="4.9"/>
<circle cx="375.4" cy="232.0" r="4.9"/>
<circle cx="413.4" cy="237.0" r="4.9"/>
<circle cx="433.4" cy="235.4" r="4.9"/>
<circle cx="374.4" cy="250.0" r="4.9"/>
<circle cx="410.4" cy="248.0" r="4.9"/>
<circle cx="427.4" cy="247.4" r="4.9"/>
<circle cx="442.4" cy="247.4" r="4.9"/>
<circle cx="389.4" cy="255.0" r="4.9"/>
<circle cx="371.4" cy="259.0" r="4.9"/>
<circle cx="373.0" cy="265.0" r="4.9"/>
<circle cx="378.0" cy="265.4" r="4.9"/>
<circle cx="435.4" cy="269.4" r="4.9"/>
<circle cx="451.4" cy="266.0" r="4.9"/>
<circle cx="468.4" cy="275.4" r="4.9"/>
<circle cx="404.4" cy="278.0" r="4.9"/>
<circle cx="379.4" cy="281.0" r="4.9"/>
<circle cx="370.4" cy="286.4" r="4.9"/>
<circle cx="381.4" cy="291.4" r="4.9"/>
<circle cx="402.4" cy="290.4" r="4.9"/>
<circle cx="347.4" cy="306.0" r="4.9"/>
<circle cx="356.4" cy="311.0" r="4.9"/>
<circle cx="365.4" cy="313.4" r="4.9"/>
<circle cx="386.4" cy="305.0" r="4.9"/>
<circle cx="393.4" cy="312.4" r="4.9"/>
<circle cx="446.4" cy="300.0" r="4.9"/>
<circle cx="462.4" cy="302.0" r="4.9"/>
<circle cx="460.4" cy="307.4" r="4.9"/>
<circle cx="454.4" cy="308.0" r="4.9"/>
<circle cx="452.4" cy="313.4" r="4.9"/>
<circle cx="459.4" cy="321.0" r="4.9"/>
<circle cx="422.4" cy="320.0" r="4.9"/>
<circle cx="419.0" cy="324.4" r="4.9"/>
<circle cx="357.4" cy="324.4" r="4.9"/>
<circle cx="353.4" cy="332.0" r="4.9"/>
<circle cx="363.4" cy="338.0" r="4.9"/>
<circle cx="355.4" cy="341.4" r="4.9"/>
<circle cx="385.4" cy="346.0" r="4.9"/>
<circle cx="461.4" cy="330.0" r="4.9"/>
<circle cx="455.4" cy="334.4" r="4.9"/>
<circle cx="431.4" cy="349.0" r="4.9"/>
<circle cx="429.4" cy="355.0" r="4.9"/>
<circle cx="428.0" cy="364.4" r="4.9"/>
<circle cx="348.4" cy="358.0" r="4.9"/>
<circle cx="352.4" cy="359.4" r="4.9"/>
<circle cx="361.4" cy="357.0" r="4.9"/>
<circle cx="362.4" cy="362.4" r="4.9"/>
<circle cx="394.4" cy="372.0" r="4.9"/>
<circle cx="403.4" cy="371.0" r="4.9"/>
<circle cx="412.4" cy="375.4" r="4.9"/>
<circle cx="366.4" cy="377.0" r="4.9"/>
<circle cx="369.4" cy="387.4" r="4.9"/>
<circle cx="440.4" cy="378.0" r="4.9"/>
<circle cx="449.4" cy="377.0" r="4.9"/>
<circle cx="464.4" cy="375.4" r="4.9"/>
<circle cx="469.4" cy="374.0" r="4.9"/>
<circle cx="346.4" cy="395.4" r="4.9"/>
<circle cx="352.4" cy="400.0" r="4.9"/>
<circle cx="360.0" cy="400.0" r="4.9"/>
<circle cx="60.8" cy="569.2" r="4.9"/>
<circle cx="63.3" cy="569.1" r="4.9"/>
<circle cx="65.9" cy="569.1" r="4.9"/>
<circle cx="68.4" cy="569.1" r="4.9"/>
<circle cx="71.0" cy="569.1" r="4.9"/>
<circle cx="73.5" cy="569.0" r="4.9"/>
<circle cx="76.0" cy="568.6" r="4.9"/>
<circle cx="77.3" cy="567.7" r="4.9"/>
<circle cx="78.6" cy="566.8" r="4.9"/>
<circle cx="79.9" cy="567.7" r="4.9"/>
<circle cx="81.1" cy="566.4" r="4.9"/>
<circle cx="82.4" cy="564.9" r="4.9"/>
<circle cx="84.9" cy="564.8" r="4.9"/>
<circle cx="86.2" cy="559.3" r="4.9"/>
<circle cx="87.5" cy="556.4" r="4.9"/>
<circle cx="90.0" cy="561.7" r="4.9"/>
<circle cx="91.3" cy="563.0" r="4.9"/>
<circle cx="93.8" cy="561.5" r="4.9"/>
<circle cx="95.1" cy="556.9" r="4.9"/>
<circle cx="96.4" cy="555.3" r="4.9"/>
<circle cx="97.6" cy="558.9" r="4.9"/>
<circle cx="98.9" cy="558.1" r="4.9"/>
<circle cx="100.2" cy="560.4" r="4.9"/>
<circle cx="101.5" cy="558.4" r="4.9"/>
<circle cx="102.7" cy="563.0" r="4.9"/>
<circle cx="105.3" cy="556.0" r="4.9"/>
<circle cx="106.5" cy="559.9" r="4.9"/>
<circle cx="107.8" cy="562.7" r="4.9"/>
<circle cx="109.1" cy="563.7" r="4.9"/>
<circle cx="110.3" cy="562.0" r="4.9"/>
<circle cx="111.6" cy="562.9" r="4.9"/>
<circle cx="112.9" cy="563.9" r="4.9"/>
<circle cx="114.2" cy="559.5" r="4.9"/>
<circle cx="115.4" cy="561.1" r="4.9"/>
<circle cx="116.7" cy="563.8" r="4.9"/>
<circle cx="118.0" cy="561.2" r="4.9"/>
<circle cx="120.5" cy="556.8" r="4.9"/>
<circle cx="124.3" cy="554.0" r="4.9"/>
<circle cx="125.6" cy="562.8" r="4.9"/>
<circle cx="126.9" cy="560.2" r="4.9"/>
<circle cx="128.1" cy="557.4" r="4.9"/>
<circle cx="129.4" cy="563.1" r="4.9"/>
<circle cx="130.7" cy="560.5" r="4.9"/>
<circle cx="131.9" cy="556.4" r="4.9"/>
<circle cx="133.2" cy="559.3" r="4.9"/>
<circle cx="135.8" cy="560.4" r="4.9"/>
<circle cx="137.0" cy="558.2" r="4.9"/>
<circle cx="138.3" cy="562.7" r="4.9"/>
<circle cx="139.6" cy="559.9" r="4.9"/>
<circle cx="140.8" cy="558.4" r="4.9"/>
<circle cx="142.1" cy="562.1" r="4.9"/>
<circle cx="143.4" cy="563.6" r="4.9"/>
<circle cx="144.7" cy="562.4" r="4.9"/>
<circle cx="147.2" cy="563.6" r="4.9"/>
<circle cx="148.5" cy="560.9" r="4.9"/>
<circle cx="149.7" cy="556.4" r="4.9"/>
<circle cx="152.3" cy="558.3" r="4.9"/>
<circle cx="153.5" cy="555.8" r="4.9"/>
<circle cx="154.8" cy="558.0" r="4.9"/>
<circle cx="156.1" cy="562.8" r="4.9"/>
<circle cx="157.4" cy="561.5" r="4.9"/>
<circle cx="158.6" cy="555.6" r="4.9"/>
<circle cx="159.9" cy="564.0" r="4.9"/>
<circle cx="161.2" cy="560.2" r="4.9"/>
<circle cx="162.4" cy="563.1" r="4.9"/>
<circle cx="165.0" cy="564.5" r="4.9"/>
<circle cx="166.3" cy="558.9" r="4.9"/>
<circle cx="167.5" cy="557.0" r="4.9"/>
<circle cx="168.8" cy="562.9" r="4.9"/>
<circle cx="170.1" cy="561.7" r="4.9"/>
<circle cx="171.3" cy="557.8" r="4.9"/>
<circle cx="172.6" cy="564.1" r="4.9"/>
<circle cx="173.9" cy="560.9" r="4.9"/>
<circle cx="175.1" cy="559.8" r="4.9"/>
<circle cx="176.4" cy="555.7" r="4.9"/>
<circle cx="177.7" cy="557.0" r="4.9"/>
<circle cx="180.2" cy="562.2" r="4.9"/>
<circle cx="181.5" cy="561.3" r="4.9"/>
<circle cx="184.0" cy="558.2" r="4.9"/>
<circle cx="186.6" cy="563.7" r="4.9"/>
<circle cx="189.1" cy="562.6" r="4.9"/>
<circle cx="191.7" cy="559.7" r="4.9"/>
<circle cx="192.9" cy="558.6" r="4.9"/>
<circle cx="194.2" cy="554.8" r="4.9"/>
<circle cx="189.5" cy="569.2" r="4.9"/>
<circle cx="194.6" cy="569.2" r="4.9"/>
<circle cx="199.7" cy="569.2" r="4.9"/>
<circle cx="204.7" cy="569.2" r="4.9"/>
<circle cx="209.8" cy="569.2" r="4.9"/>
</g>
</g>
<rect x="60.5" y="15.5" width="725" height="553" fill="none" stroke="#000" stroke-width="1"/>
<line x1="55" x2="60.5" y1="568.50" y2="568.50" stroke="#000" stroke-width="1"/>
<text x="49.6" y="573.70" font-size="14.5" text-anchor="end" textLength="7.4" lengthAdjust="spacingAndGlyphs">0</text>
<line x1="55" x2="60.5" y1="449.50" y2="449.50" stroke="#000" stroke-width="1"/>
<text x="49.6" y="454.70" font-size="14.5" text-anchor="end" textLength="24.7" lengthAdjust="spacingAndGlyphs">500</text>
<line x1="55" x2="60.5" y1="329.50" y2="329.50" stroke="#000" stroke-width="1"/>
<text x="49.6" y="334.70" font-size="14.5" text-anchor="end" textLength="33.5" lengthAdjust="spacingAndGlyphs">1000</text>
<line x1="55" x2="60.5" y1="209.50" y2="209.50" stroke="#000" stroke-width="1"/>
<text x="49.6" y="214.70" font-size="14.5" text-anchor="end" textLength="33.5" lengthAdjust="spacingAndGlyphs">1500</text>
<line x1="55" x2="60.5" y1="89.50" y2="89.50" stroke="#000" stroke-width="1"/>
<text x="49.6" y="94.70" font-size="14.5" text-anchor="end" textLength="33.5" lengthAdjust="spacingAndGlyphs">2000</text>
<g clip-path="url(#c2)">
<polygon points="60.5,1122.9 68.3,1122.9 68.8,1099.8 69.0,1099.8 69.6,1122.9 71.2,1122.9 71.2,1099.8 79.5,1099.8 80.0,1053.6 80.2,1053.6 80.8,1099.8 87.5,1099.8 87.5,1076.7 88.8,1076.7 89.3,1099.8 89.5,1099.8 90.0,1076.7 90.6,1076.7 91.1,1030.5 91.3,1030.5 91.8,1076.7 92.5,1076.7 92.5,1053.6 93.2,1053.6 93.7,1099.8 93.9,1099.8 94.4,1053.6 96.2,1053.6 96.2,1030.5 96.8,1030.5 97.3,1053.6 97.5,1053.6 98.0,1030.5 100.0,1030.5 100.0,1007.4 100.9,1007.4 101.5,1030.5 101.7,1030.5 102.2,1007.4 102.6,1007.4 103.1,984.3 103.3,984.3 103.8,1007.4 105.0,1007.4 105.0,984.3 111.0,984.3 111.6,1030.5 111.8,1030.5 112.3,984.3 112.9,984.3 113.4,1007.4 113.6,1007.4 114.2,984.3 118.7,984.3 118.7,1007.4 119.7,1007.4 120.2,984.3 120.4,984.3 121.0,1007.4 124.4,1007.4 124.9,984.3 125.1,984.3 125.7,1007.4 129.3,1007.4 129.9,1030.5 130.1,1030.5 130.6,1007.4 133.7,1007.4 133.7,1030.5 138.6,1030.5 139.1,1053.6 139.3,1053.6 139.9,1030.5 142.5,1030.5 142.5,1053.6 145.7,1053.6 146.3,1030.5 146.5,1030.5 147.0,1053.6 149.0,1053.6 149.6,1076.7 149.8,1076.7 150.3,1053.6 153.5,1053.6 154.0,1076.7 154.2,1076.7 154.8,1053.6 156.2,1053.6 156.2,1076.7 158.3,1076.7 158.8,1053.6 159.0,1053.6 159.6,1076.7 161.4,1076.7 162.0,1053.6 162.2,1053.6 162.7,1076.7 164.7,1076.7 165.3,1053.6 165.5,1053.6 166.0,1076.7 168.7,1076.7 169.2,1030.5 169.4,1030.5 169.9,1076.7 175.0,1076.7 175.5,1053.6 175.7,1053.6 176.2,1076.7 179.8,1076.7 180.3,1099.8 180.5,1099.8 181.0,1076.7 182.5,1076.7 183.0,1053.6 183.2,1053.6 183.7,1076.7 185.3,1076.7 185.8,1099.8 186.0,1099.8 186.6,1076.7 190.0,1076.7 190.0,1099.8 190.8,1099.8 191.4,1076.7 191.6,1076.7 192.1,1099.8 195.0,1099.8 195.0,1076.7 197.9,1076.7 198.4,1099.8 198.6,1099.8 199.2,1076.7 200.3,1076.7 200.8,1099.8 201.0,1099.8 201.6,1076.7 208.5,1076.7 209.1,1053.6 209.3,1053.6 209.8,1076.7 210.6,1076.7 211.2,1053.6 211.4,1053.6 211.9,1076.7 212.5,1076.7 212.5,1053.6 215.0,1053.6 215.0,1030.5 215.6,1030.5 216.2,1053.6 216.4,1053.6 216.9,1030.5 217.7,1030.5 218.2,984.3 218.4,984.3 219.0,1030.5 220.0,1030.5 220.0,1007.4 222.5,1007.4 222.5,984.3 225.0,984.3 225.0,961.2 227.0,961.2 227.0,938.1 229.0,938.1 229.0,915.0 231.0,915.0 231.0,891.9 232.7,891.9 232.7,868.8 234.5,868.8 234.5,845.7 236.0,845.7 236.0,822.6 237.6,822.6 237.6,799.5 239.5,799.5 239.5,776.4 241.2,776.4 241.2,753.3 242.5,753.3 242.5,730.2 243.7,730.2 243.7,707.1 245.0,707.1 245.0,684.0 245.7,684.0 246.2,730.2 246.4,730.2 246.9,684.0 248.6,684.0 249.2,660.9 249.4,660.9 249.9,684.0 250.6,684.0 250.6,660.9 251.3,660.9 251.9,684.0 252.1,684.0 252.6,660.9 253.6,660.9 254.1,637.8 254.3,637.8 254.9,660.9 256.2,660.9 256.2,637.8 258.8,637.8 259.3,614.7 259.5,614.7 260.1,637.8 261.0,637.8 261.0,614.7 261.9,614.7 262.5,637.8 262.7,637.8 263.2,614.7 265.0,614.7 265.0,637.8 267.5,637.8 267.5,660.9 269.0,660.9 269.5,637.8 269.7,637.8 270.2,660.9 272.8,660.9 273.4,707.1 273.6,707.1 274.1,660.9 275.0,660.9 275.0,684.0 275.9,684.0 276.4,660.9 276.6,660.9 277.2,684.0 280.6,684.0 280.6,707.1 281.5,707.1 282.1,684.0 282.3,684.0 282.8,707.1 284.4,707.1 284.4,730.2 286.4,730.2 286.9,707.1 287.1,707.1 287.7,730.2 290.0,730.2 290.0,753.3 290.8,753.3 291.4,730.2 291.6,730.2 292.1,753.3 293.7,753.3 293.7,776.4 294.3,776.4 294.8,730.2 295.0,730.2 295.5,776.4 295.9,776.4 296.5,753.3 296.7,753.3 297.2,776.4 300.0,776.4 300.0,799.5 301.1,799.5 301.6,776.4 301.8,776.4 302.4,799.5 302.9,799.5 303.5,822.6 303.7,822.6 304.2,799.5 305.0,799.5 305.0,822.6 306.0,822.6 306.5,776.4 306.7,776.4 307.3,822.6 310.0,822.6 310.0,845.7 312.5,845.7 313.0,822.6 313.2,822.6 313.8,845.7 318.1,845.7 318.7,891.9 318.9,891.9 319.4,845.7 322.5,845.7 322.5,891.9 325.0,891.9 325.5,868.8 325.7,868.8 326.3,891.9 327.5,891.9 327.5,845.7 328.1,845.7 328.6,891.9 328.8,891.9 329.4,845.7 330.1,845.7 330.7,822.6 330.9,822.6 331.4,845.7 334.0,845.7 334.0,822.6 335.2,822.6 335.7,845.7 335.9,845.7 336.5,822.6 338.0,822.6 338.0,799.5 338.6,799.5 339.1,822.6 339.3,822.6 339.9,799.5 342.0,799.5 342.0,776.4 343.2,776.4 343.7,799.5 343.9,799.5 344.5,776.4 345.0,776.4 345.6,753.3 345.8,753.3 346.3,776.4 347.0,776.4 347.0,753.3 349.0,753.3 349.0,730.2 350.0,730.2 350.0,707.1 350.6,707.1 350.6,684.0 353.0,684.0 353.0,660.9 354.3,660.9 354.3,637.8 355.2,637.8 355.2,614.7 357.5,614.7 357.5,585.0 487.0,585.0 487.0,614.7 488.5,614.7 488.5,637.8 490.5,637.8 490.5,660.9 492.5,660.9 492.5,684.0 495.0,684.0 495.0,707.1 497.0,707.1 497.0,730.2 500.0,730.2 500.0,753.3 500.9,753.3 501.5,730.2 501.7,730.2 502.2,753.3 507.3,753.3 507.8,776.4 508.0,776.4 508.6,753.3 509.6,753.3 510.1,776.4 510.3,776.4 510.9,753.3 513.0,753.3 513.0,776.4 515.0,776.4 515.0,799.5 521.0,799.5 521.0,822.6 522.7,822.6 523.3,799.5 523.5,799.5 524.0,822.6 524.6,822.6 525.2,845.7 525.4,845.7 525.9,822.6 527.0,822.6 527.0,845.7 531.9,845.7 532.4,868.8 532.6,868.8 533.2,845.7 535.1,845.7 535.6,868.8 535.8,868.8 536.3,845.7 538.0,845.7 538.0,868.8 541.9,868.8 542.4,845.7 542.6,845.7 543.2,868.8 544.9,868.8 545.5,845.7 545.7,845.7 546.2,868.8 547.2,868.8 547.7,891.9 547.9,891.9 548.4,868.8 549.2,868.8 549.8,891.9 550.0,891.9 550.5,868.8 551.6,868.8 552.1,891.9 552.3,891.9 552.8,868.8 554.0,868.8 554.0,891.9 559.6,891.9 560.2,868.8 560.4,868.8 560.9,891.9 562.5,891.9 563.0,868.8 563.2,868.8 563.8,891.9 566.1,891.9 566.7,915.0 566.9,915.0 567.4,891.9 568.8,891.9 569.3,938.1 569.5,938.1 570.1,891.9 576.0,891.9 576.0,915.0 576.8,915.0 577.3,891.9 577.5,891.9 578.0,915.0 583.0,915.0 583.0,938.1 586.6,938.1 587.2,891.9 587.4,891.9 587.9,938.1 589.0,938.1 589.5,915.0 589.7,915.0 590.3,938.1 590.7,938.1 591.3,961.2 591.5,961.2 592.0,938.1 595.0,938.1 595.5,961.2 595.7,961.2 596.3,938.1 596.8,938.1 597.3,984.3 597.5,984.3 598.1,938.1 599.0,938.1 599.0,961.2 604.7,961.2 605.2,915.0 605.4,915.0 606.0,961.2 609.4,961.2 610.0,984.3 610.2,984.3 610.7,961.2 616.0,961.2 616.0,984.3 626.7,984.3 627.3,938.1 627.5,938.1 628.0,984.3 628.5,984.3 629.0,961.2 629.2,961.2 629.8,984.3 641.6,984.3 642.2,1007.4 642.4,1007.4 642.9,984.3 654.1,984.3 654.6,1007.4 654.8,1007.4 655.4,984.3 660.7,984.3 661.2,1030.5 661.4,1030.5 661.9,984.3 663.0,984.3 663.6,961.2 663.8,961.2 664.3,984.3 667.0,984.3 667.0,1007.4 668.4,1007.4 668.9,984.3 669.1,984.3 669.7,1007.4 680.8,1007.4 681.3,984.3 681.5,984.3 682.1,1007.4 682.9,1007.4 683.4,961.2 683.6,961.2 684.1,1007.4 691.7,1007.4 692.3,961.2 692.5,961.2 693.0,1007.4 695.0,1007.4 695.0,984.3 697.8,984.3 698.4,1007.4 698.6,1007.4 699.1,984.3 700.3,984.3 700.8,1030.5 701.0,1030.5 701.6,984.3 708.0,984.3 708.0,961.2 708.7,961.2 709.3,984.3 709.5,984.3 710.0,961.2 710.5,961.2 711.1,915.0 711.3,915.0 711.8,961.2 712.5,961.2 712.5,938.1 714.0,938.1 714.5,915.0 714.7,915.0 715.3,938.1 716.0,938.1 716.0,915.0 718.7,915.0 718.7,891.9 721.0,891.9 721.0,868.8 722.5,868.8 722.5,845.7 723.7,845.7 723.7,822.6 724.5,822.6 725.0,845.7 725.2,845.7 725.8,822.6 727.5,822.6 727.5,799.5 728.7,799.5 728.7,776.4 730.0,776.4 730.0,753.3 731.0,753.3 731.0,730.2 732.2,730.2 732.2,707.1 733.3,707.1 733.3,684.0 734.4,684.0 734.4,660.9 735.5,660.9 735.5,637.8 736.6,637.8 736.6,614.7 738.7,614.7 738.7,585.0 790.0,585.0 790.0,585.0 790.0,1146.0 790.0,1146.0 60.5,1146.0" fill="#1f77b4" fill-opacity="0.1" stroke="#1f77b4" stroke-opacity="0.1" stroke-width="1"/>
<polygon points="60.5,1146.0 72.0,1146.0 72.6,1122.9 72.8,1122.9 73.3,1146.0 82.5,1146.0 82.5,1122.9 83.1,1122.9 83.6,1146.0 83.8,1146.0 84.4,1122.9 84.7,1122.9 85.3,1099.8 85.5,1099.8 86.0,1122.9 87.0,1122.9 87.0,1099.8 88.1,1099.8 88.7,1122.9 88.9,1122.9 89.4,1099.8 93.4,1099.8 94.0,1076.7 94.2,1076.7 94.7,1099.8 96.2,1099.8 96.2,1076.7 99.2,1076.7 99.7,1030.5 99.9,1030.5 100.5,1076.7 103.2,1076.7 103.2,1053.6 130.0,1053.6 130.0,1076.7 131.1,1076.7 131.6,1030.5 131.8,1030.5 132.4,1076.7 136.7,1076.7 137.2,1099.8 137.4,1099.8 138.0,1076.7 138.7,1076.7 139.2,1099.8 139.4,1099.8 139.9,1076.7 144.0,1076.7 144.0,1099.8 155.5,1099.8 156.1,1122.9 156.3,1122.9 156.8,1099.8 179.2,1099.8 179.7,1076.7 179.9,1076.7 180.4,1099.8 190.5,1099.8 191.0,1076.7 191.2,1076.7 191.8,1099.8 197.2,1099.8 197.8,1053.6 198.0,1053.6 198.5,1099.8 201.2,1099.8 201.2,1076.7 202.3,1076.7 202.9,1099.8 203.1,1099.8 203.6,1076.7 205.5,1076.7 206.1,1099.8 206.3,1099.8 206.8,1076.7 207.3,1076.7 207.8,1099.8 208.0,1099.8 208.5,1076.7 213.1,1076.7 213.6,1030.5 213.8,1030.5 214.3,1076.7 217.5,1076.7 217.5,1053.6 219.6,1053.6 220.1,1099.8 220.3,1099.8 220.9,1053.6 222.2,1053.6 222.7,1030.5 222.9,1030.5 223.5,1053.6 226.2,1053.6 226.2,1030.5 227.2,1030.5 227.7,1053.6 227.9,1053.6 228.4,1030.5 229.1,1030.5 229.6,1007.4 229.8,1007.4 230.4,1030.5 231.2,1030.5 231.2,1007.4 233.7,1007.4 233.7,984.3 235.0,984.3 235.0,961.2 236.0,961.2 236.0,938.1 238.0,938.1 238.0,915.0 241.0,915.0 241.0,891.9 243.0,891.9 243.0,868.8 246.1,868.8 246.6,891.9 246.8,891.9 247.3,868.8 252.5,868.8 252.5,845.7 253.7,845.7 254.3,868.8 254.5,868.8 255.0,845.7 256.6,845.7 257.1,868.8 257.3,868.8 257.9,845.7 273.5,845.7 273.5,868.8 274.4,868.8 275.0,845.7 275.2,845.7 275.7,868.8 278.5,868.8 279.0,915.0 279.2,915.0 279.7,868.8 281.0,868.8 281.0,891.9 283.8,891.9 284.4,868.8 284.6,868.8 285.1,891.9 291.5,891.9 291.5,915.0 295.0,915.0 295.6,938.1 295.8,938.1 296.3,915.0 299.0,915.0 299.0,938.1 299.6,938.1 300.1,915.0 300.3,915.0 300.9,938.1 305.0,938.1 305.0,961.2 310.9,961.2 311.5,938.1 311.7,938.1 312.2,961.2 320.7,961.2 321.2,915.0 321.4,915.0 322.0,961.2 329.5,961.2 330.1,938.1 330.3,938.1 330.8,961.2 332.0,961.2 332.0,938.1 332.9,938.1 333.5,961.2 333.7,961.2 334.2,938.1 335.7,938.1 336.2,915.0 336.4,915.0 336.9,938.1 338.0,938.1 338.0,915.0 339.1,915.0 339.7,961.2 339.9,961.2 340.4,915.0 340.9,915.0 341.4,891.9 341.6,891.9 342.2,915.0 343.0,915.0 343.0,891.9 344.3,891.9 344.8,938.1 345.0,938.1 345.5,891.9 348.0,891.9 348.0,868.8 348.9,868.8 349.5,891.9 349.7,891.9 350.2,868.8 351.5,868.8 351.5,845.7 352.2,845.7 352.7,868.8 352.9,868.8 353.5,845.7 355.0,845.7 355.0,822.6 358.0,822.6 358.0,799.5 358.6,799.5 359.1,845.7 359.3,845.7 359.9,799.5 361.2,799.5 361.2,776.4 362.2,776.4 362.8,799.5 363.0,799.5 363.5,776.4 365.0,776.4 365.0,753.3 365.9,753.3 366.4,776.4 366.6,776.4 367.1,753.3 368.7,753.3 368.7,730.2 370.6,730.2 370.6,707.1 371.5,707.1 371.5,684.0 372.5,684.0 372.5,660.9 373.1,660.9 373.7,684.0 373.9,684.0 374.4,660.9 376.2,660.9 376.2,637.8 380.0,637.8 380.0,614.7 381.9,614.7 381.9,585.0 458.7,585.0 458.7,614.7 461.0,614.7 461.0,637.8 462.7,637.8 463.3,660.9 463.5,660.9 464.0,637.8 465.0,637.8 465.0,660.9 467.1,660.9 467.6,707.1 467.8,707.1 468.4,660.9 469.7,660.9 469.7,684.0 472.0,684.0 472.0,707.1 475.0,707.1 475.0,730.2 475.7,730.2 476.2,707.1 476.4,707.1 477.0,730.2 479.0,730.2 479.0,753.3 479.6,753.3 480.2,730.2 480.4,730.2 480.9,753.3 482.5,753.3 482.5,776.4 483.8,776.4 484.4,822.6 484.6,822.6 485.1,776.4 486.0,776.4 486.0,799.5 486.6,799.5 487.2,776.4 487.4,776.4 487.9,799.5 490.0,799.5 490.0,822.6 491.1,822.6 491.6,799.5 491.8,799.5 492.4,822.6 494.0,822.6 494.0,845.7 496.1,845.7 496.6,799.5 496.8,799.5 497.4,845.7 498.0,845.7 498.5,891.9 498.7,891.9 499.2,845.7 500.0,845.7 500.0,868.8 507.0,868.8 507.0,891.9 509.0,891.9 509.0,915.0 510.2,915.0 510.7,891.9 510.9,891.9 511.4,915.0 515.7,915.0 516.2,938.1 516.4,938.1 516.9,915.0 522.0,915.0 522.0,938.1 523.0,938.1 523.5,915.0 523.7,915.0 524.3,938.1 525.4,938.1 526.0,984.3 526.2,984.3 526.7,938.1 529.0,938.1 529.0,961.2 530.1,961.2 530.7,938.1 530.9,938.1 531.4,961.2 531.9,961.2 532.5,938.1 532.7,938.1 533.2,961.2 541.0,961.2 541.0,984.3 551.8,984.3 552.3,1030.5 552.5,1030.5 553.0,984.3 559.2,984.3 559.8,1007.4 560.0,1007.4 560.5,984.3 561.7,984.3 562.2,1007.4 562.4,1007.4 562.9,984.3 563.5,984.3 563.5,1007.4 564.6,1007.4 565.1,961.2 565.3,961.2 565.9,1007.4 566.5,1007.4 567.0,984.3 567.2,984.3 567.8,1007.4 569.4,1007.4 570.0,1030.5 570.2,1030.5 570.7,1007.4 573.5,1007.4 573.5,1030.5 583.0,1030.5 583.5,1007.4 583.7,1007.4 584.3,1030.5 585.9,1030.5 586.4,1007.4 586.6,1007.4 587.1,1030.5 641.3,1030.5 641.8,1007.4 642.0,1007.4 642.5,1030.5 644.2,1030.5 644.8,1053.6 645.0,1053.6 645.5,1030.5 649.4,1030.5 650.0,1076.7 650.2,1076.7 650.7,1030.5 652.2,1030.5 652.7,1053.6 652.9,1053.6 653.4,1030.5 657.0,1030.5 657.0,1053.6 660.3,1053.6 660.8,1076.7 661.0,1076.7 661.6,1053.6 679.5,1053.6 680.1,1030.5 680.3,1030.5 680.8,1053.6 697.0,1053.6 697.5,1030.5 697.7,1030.5 698.3,1053.6 707.0,1053.6 707.0,1030.5 707.6,1030.5 708.1,1053.6 708.3,1053.6 708.9,1030.5 709.8,1030.5 710.3,1076.7 710.5,1076.7 711.0,1030.5 714.0,1030.5 714.0,1007.4 716.0,1007.4 716.0,984.3 716.6,984.3 717.2,1030.5 717.4,1030.5 717.9,984.3 721.0,984.3 721.0,961.2 721.6,961.2 722.1,984.3 722.3,984.3 722.9,961.2 725.0,961.2 725.0,938.1 725.6,938.1 726.1,961.2 726.3,961.2 726.8,938.1 728.7,938.1 728.7,915.0 730.0,915.0 730.0,891.9 731.0,891.9 731.5,938.1 731.7,938.1 732.3,891.9 733.7,891.9 733.7,868.8 736.0,868.8 736.0,845.7 737.5,845.7 737.5,822.6 738.5,822.6 739.0,845.7 739.2,845.7 739.8,822.6 740.1,822.6 740.7,799.5 740.9,799.5 741.4,822.6 741.7,822.6 742.3,799.5 742.5,799.5 743.0,822.6 743.7,822.6 743.7,799.5 745.0,799.5 745.0,776.4 747.5,776.4 747.5,753.3 748.4,753.3 748.9,776.4 749.1,776.4 749.6,753.3 752.0,753.3 752.0,730.2 754.0,730.2 754.0,707.1 756.0,707.1 756.0,684.0 757.6,684.0 758.1,730.2 758.3,730.2 758.8,684.0 760.6,684.0 760.6,660.9 761.7,660.9 761.7,637.8 762.8,637.8 762.8,614.7 765.0,614.7 765.0,585.0 790.0,585.0 790.0,585.0 790.0,1122.9 790.0,1122.9 775.9,1122.9 775.4,1099.8 775.2,1099.8 774.7,1122.9 769.5,1122.9 768.9,1099.8 768.7,1099.8 768.2,1122.9 758.4,1122.9 757.9,1146.0 757.7,1146.0 757.2,1122.9 755.2,1122.9 754.6,1146.0 754.4,1146.0 753.9,1122.9 750.0,1122.9 750.0,1146.0 742.5,1146.0 741.9,1099.8 741.7,1099.8 741.2,1146.0 736.5,1146.0 735.9,1146.0 735.7,1146.0 735.2,1146.0 707.6,1146.0 707.1,1122.9 706.9,1122.9 706.3,1146.0 674.9,1146.0 674.3,1122.9 674.1,1122.9 673.6,1146.0 664.2,1146.0 663.6,1146.0 663.4,1146.0 662.9,1146.0 657.8,1146.0 657.2,1146.0 657.0,1146.0 656.5,1146.0 605.0,1146.0 604.4,1146.0 604.2,1146.0 603.7,1146.0 597.0,1146.0 596.4,1122.9 596.2,1122.9 595.7,1146.0 548.3,1146.0 547.8,1146.0 547.6,1146.0 547.1,1146.0 520.1,1146.0 519.5,1122.9 519.3,1122.9 518.8,1146.0 515.4,1146.0 514.9,1122.9 514.7,1122.9 514.1,1146.0 501.4,1146.0 500.8,1122.9 500.6,1122.9 500.1,1146.0 497.0,1146.0 496.5,1122.9 496.3,1122.9 495.7,1146.0 488.0,1146.0 488.0,1122.9 482.6,1122.9 482.1,1146.0 481.9,1146.0 481.4,1122.9 477.9,1122.9 477.3,1146.0 477.1,1146.0 476.6,1122.9 473.4,1122.9 472.9,1146.0 472.7,1146.0 472.1,1122.9 451.5,1122.9 450.9,1099.8 450.7,1099.8 450.2,1122.9 449.0,1122.9 448.5,1099.8 448.3,1099.8 447.8,1122.9 441.0,1122.9 441.0,1099.8 434.9,1099.8 434.3,1122.9 434.1,1122.9 433.6,1099.8 428.4,1099.8 427.9,1122.9 427.7,1122.9 427.1,1099.8 410.5,1099.8 409.9,1076.7 409.7,1076.7 409.2,1099.8 398.9,1099.8 398.4,1076.7 398.2,1076.7 397.6,1099.8 396.6,1099.8 396.1,1146.0 395.9,1146.0 395.3,1099.8 393.6,1099.8 393.1,1122.9 392.9,1122.9 392.3,1099.8 390.0,1099.8 390.0,1122.9 383.4,1122.9 382.9,1076.7 382.7,1076.7 382.1,1122.9 364.8,1122.9 364.3,1146.0 364.1,1146.0 363.6,1122.9 358.7,1122.9 358.7,1146.0 348.4,1146.0 347.8,1122.9 347.6,1122.9 347.1,1146.0 341.6,1146.0 341.1,1122.9 340.9,1122.9 340.3,1146.0 322.5,1146.0 321.9,1122.9 321.7,1122.9 321.2,1146.0 299.2,1146.0 298.6,1122.9 298.4,1122.9 297.9,1146.0 295.8,1146.0 295.3,1122.9 295.1,1122.9 294.5,1146.0 272.5,1146.0 272.0,1146.0 271.8,1146.0 271.3,1146.0 236.8,1146.0 236.3,1146.0 236.1,1146.0 235.5,1146.0 230.3,1146.0 229.8,1122.9 229.6,1122.9 229.0,1146.0 227.1,1146.0 226.6,1122.9 226.4,1122.9 225.8,1146.0 195.6,1146.0 195.1,1146.0 194.9,1146.0 194.4,1146.0 186.5,1146.0 186.0,1146.0 185.8,1146.0 185.2,1146.0 152.3,1146.0 151.8,1122.9 151.6,1122.9 151.0,1146.0 100.2,1146.0 99.7,1122.9 99.5,1122.9 98.9,1146.0 86.8,1146.0 86.2,1122.9 86.0,1122.9 85.5,1146.0 75.3,1146.0 74.8,1122.9 74.6,1122.9 74.0,1146.0 66.5,1146.0 66.0,1122.9 65.8,1122.9 65.2,1146.0 60.5,1146.0" fill="#1f77b4" fill-opacity="0.1" stroke="#1f77b4" stroke-opacity="0.1" stroke-width="1"/>
<polygon points="60.5,1146.0 74.9,1146.0 75.5,1122.9 75.7,1122.9 76.2,1146.0 80.6,1146.0 81.1,1099.8 81.3,1099.8 81.9,1146.0 87.0,1146.0 87.0,1122.9 88.0,1122.9 88.6,1146.0 88.8,1146.0 89.3,1122.9 91.5,1122.9 92.1,1076.7 92.3,1076.7 92.8,1122.9 96.2,1122.9 96.2,1099.8 102.3,1099.8 102.9,1146.0 103.1,1146.0 103.6,1099.8 108.4,1099.8 109.0,1122.9 109.2,1122.9 109.7,1099.8 123.7,1099.8 124.3,1076.7 124.5,1076.7 125.0,1099.8 133.7,1099.8 134.3,1122.9 134.5,1122.9 135.0,1099.8 139.1,1099.8 139.6,1122.9 139.8,1122.9 140.3,1099.8 143.0,1099.8 143.0,1122.9 147.9,1122.9 148.4,1099.8 148.6,1099.8 149.1,1122.9 149.8,1122.9 150.3,1099.8 150.5,1099.8 151.1,1122.9 152.4,1122.9 152.9,1099.8 153.1,1099.8 153.7,1122.9 155.8,1122.9 156.3,1099.8 156.5,1099.8 157.1,1122.9 172.0,1122.9 172.6,1099.8 172.8,1099.8 173.3,1122.9 176.0,1122.9 176.5,1146.0 176.7,1146.0 177.3,1122.9 224.9,1122.9 225.4,1099.8 225.6,1099.8 226.1,1122.9 228.7,1122.9 228.7,1099.8 231.3,1099.8 231.9,1076.7 232.1,1076.7 232.6,1099.8 235.0,1099.8 235.0,1076.7 237.5,1076.7 237.5,1053.6 241.2,1053.6 241.2,1030.5 243.7,1030.5 243.7,1007.4 244.4,1007.4 244.9,1030.5 245.1,1030.5 245.7,1007.4 247.5,1007.4 247.5,984.3 248.8,984.3 249.4,961.2 249.6,961.2 250.1,984.3 251.0,984.3 251.0,961.2 253.7,961.2 254.3,984.3 254.5,984.3 255.0,961.2 257.5,961.2 258.1,984.3 258.3,984.3 258.8,961.2 281.0,961.2 281.0,984.3 288.5,984.3 289.0,1030.5 289.2,1030.5 289.8,984.3 290.3,984.3 290.9,1030.5 291.1,1030.5 291.6,984.3 294.0,984.3 294.0,1007.4 297.0,1007.4 297.0,1030.5 300.2,1030.5 300.8,1007.4 301.0,1007.4 301.5,1030.5 302.4,1030.5 303.0,1007.4 303.2,1007.4 303.7,1030.5 309.3,1030.5 309.9,1007.4 310.1,1007.4 310.6,1030.5 321.6,1030.5 322.1,1007.4 322.3,1007.4 322.9,1030.5 336.4,1030.5 336.9,1053.6 337.1,1053.6 337.7,1030.5 345.0,1030.5 345.0,1007.4 347.0,1007.4 347.0,984.3 350.0,984.3 350.0,961.2 351.4,961.2 352.0,984.3 352.2,984.3 352.7,961.2 358.0,961.2 358.0,938.1 359.6,938.1 360.2,984.3 360.4,984.3 360.9,938.1 362.6,938.1 363.1,915.0 363.3,915.0 363.9,938.1 365.0,938.1 365.0,915.0 365.8,915.0 366.4,938.1 366.6,938.1 367.1,915.0 367.4,915.0 368.0,891.9 368.2,891.9 368.7,915.0 370.0,915.0 370.0,891.9 373.0,891.9 373.0,868.8 375.0,868.8 375.0,845.7 377.5,845.7 377.5,822.6 380.5,822.6 380.5,799.5 383.5,799.5 383.5,776.4 386.0,776.4 386.0,753.3 389.0,753.3 389.0,730.2 389.6,730.2 390.2,753.3 390.4,753.3 390.9,730.2 392.5,730.2 392.5,707.1 393.4,707.1 393.9,753.3 394.1,753.3 394.7,707.1 396.0,707.1 396.0,684.0 398.0,684.0 398.0,660.9 399.5,660.9 399.5,637.8 400.1,637.8 400.6,660.9 400.8,660.9 401.4,637.8 408.8,637.8 409.3,660.9 409.5,660.9 410.1,637.8 415.2,637.8 415.8,684.0 416.0,684.0 416.5,637.8 425.0,637.8 425.0,660.9 428.0,660.9 428.6,637.8 428.8,637.8 429.3,660.9 431.6,660.9 432.1,614.7 432.3,614.7 432.8,660.9 434.0,660.9 434.6,707.1 434.8,707.1 435.3,660.9 437.6,660.9 438.2,707.1 438.4,707.1 438.9,660.9 442.0,660.9 442.0,684.0 442.6,684.0 443.2,660.9 443.4,660.9 443.9,684.0 444.7,684.0 445.3,730.2 445.5,730.2 446.0,684.0 447.0,684.0 447.0,707.1 449.0,707.1 449.0,730.2 450.5,730.2 450.5,753.3 452.0,753.3 452.0,776.4 453.5,776.4 453.5,799.5 454.7,799.5 455.3,822.6 455.5,822.6 456.0,799.5 457.0,799.5 457.0,822.6 458.4,822.6 458.9,799.5 459.1,799.5 459.7,822.6 460.4,822.6 460.9,799.5 461.1,799.5 461.7,822.6 467.0,822.6 467.0,845.7 469.6,845.7 470.2,868.8 470.4,868.8 470.9,845.7 473.0,845.7 473.0,868.8 475.0,868.8 475.0,891.9 476.1,891.9 476.6,845.7 476.8,845.7 477.4,891.9 479.8,891.9 480.4,845.7 480.6,845.7 481.1,891.9 487.0,891.9 487.0,915.0 488.5,915.0 488.5,938.1 490.7,938.1 491.2,915.0 491.4,915.0 491.9,938.1 495.1,938.1 495.7,961.2 495.9,961.2 496.4,938.1 497.0,938.1 497.0,961.2 499.0,961.2 499.0,984.3 501.7,984.3 502.3,1007.4 502.5,1007.4 503.0,984.3 505.0,984.3 505.0,1007.4 505.6,1007.4 506.1,961.2 506.3,961.2 506.9,1007.4 513.3,1007.4 513.8,1030.5 514.0,1030.5 514.6,1007.4 515.7,1007.4 516.3,1030.5 516.5,1030.5 517.0,1007.4 518.2,1007.4 518.7,1053.6 518.9,1053.6 519.5,1007.4 522.0,1007.4 522.0,1030.5 524.4,1030.5 524.9,984.3 525.1,984.3 525.6,1030.5 530.0,1030.5 530.6,1007.4 530.8,1007.4 531.3,1030.5 533.1,1030.5 533.7,1053.6 533.9,1053.6 534.4,1030.5 541.0,1030.5 541.0,1053.6 551.7,1053.6 552.3,1007.4 552.5,1007.4 553.0,1053.6 563.5,1053.6 564.1,1076.7 564.3,1076.7 564.8,1053.6 573.0,1053.6 573.6,1076.7 573.8,1076.7 574.3,1053.6 583.0,1053.6 583.0,1076.7 586.0,1076.7 586.6,1053.6 586.8,1053.6 587.3,1076.7 592.7,1076.7 593.3,1053.6 593.5,1053.6 594.0,1076.7 630.7,1076.7 631.2,1053.6 631.4,1053.6 631.9,1076.7 654.1,1076.7 654.6,1053.6 654.8,1053.6 655.4,1076.7 663.8,1076.7 664.3,1053.6 664.5,1053.6 665.1,1076.7 673.5,1076.7 674.1,1053.6 674.3,1053.6 674.8,1076.7 678.2,1076.7 678.8,1099.8 679.0,1099.8 679.5,1076.7 704.0,1076.7 704.6,1053.6 704.8,1053.6 705.3,1076.7 714.0,1076.7 714.0,1053.6 716.0,1053.6 716.0,1030.5 718.5,1030.5 718.5,1007.4 721.0,1007.4 721.0,984.3 729.4,984.3 729.9,961.2 730.1,961.2 730.7,984.3 733.5,984.3 734.0,938.1 734.2,938.1 734.8,984.3 737.0,984.3 737.0,961.2 739.0,961.2 739.0,938.1 739.8,938.1 740.3,961.2 740.5,961.2 741.1,938.1 742.5,938.1 742.5,915.0 745.0,915.0 745.0,891.9 747.5,891.9 747.5,868.8 748.4,868.8 749.0,891.9 749.2,891.9 749.7,868.8 753.0,868.8 753.6,845.7 753.8,845.7 754.3,868.8 754.8,868.8 755.3,845.7 755.5,845.7 756.0,868.8 757.5,868.8 757.5,845.7 759.6,845.7 760.1,822.6 760.3,822.6 760.8,845.7 762.5,845.7 762.5,822.6 765.5,822.6 765.5,799.5 767.4,799.5 767.9,822.6 768.1,822.6 768.7,799.5 769.2,799.5 769.7,753.3 769.9,753.3 770.4,799.5 772.5,799.5 772.5,776.4 775.0,776.4 775.5,822.6 775.7,822.6 776.2,776.4 776.8,776.4 777.3,730.2 777.5,730.2 778.1,776.4 780.5,776.4 780.5,753.3 790.0,753.3 790.0,753.3 790.0,1076.7 790.0,1076.7 767.2,1076.7 766.7,1053.6 766.5,1053.6 766.0,1076.7 761.0,1076.7 760.5,1099.8 760.3,1099.8 759.7,1076.7 756.3,1076.7 755.8,1053.6 755.6,1053.6 755.1,1076.7 752.2,1076.7 751.7,1099.8 751.5,1099.8 751.0,1076.7 750.0,1076.7 750.0,1099.8 748.5,1099.8 747.9,1076.7 747.7,1076.7 747.2,1099.8 745.0,1099.8 744.5,1122.9 744.3,1122.9 743.7,1099.8 742.3,1099.8 741.8,1146.0 741.6,1146.0 741.1,1099.8 740.0,1099.8 740.0,1122.9 737.9,1122.9 737.4,1146.0 737.2,1146.0 736.6,1122.9 736.0,1122.9 736.0,1146.0 734.8,1146.0 734.2,1099.8 734.0,1099.8 733.5,1146.0 730.8,1146.0 730.2,1122.9 730.0,1122.9 729.5,1146.0 727.2,1146.0 726.6,1122.9 726.4,1122.9 725.9,1146.0 708.5,1146.0 707.9,1122.9 707.7,1122.9 707.2,1146.0 667.6,1146.0 667.0,1122.9 666.8,1122.9 666.3,1146.0 664.3,1146.0 663.8,1122.9 663.6,1122.9 663.1,1146.0 635.5,1146.0 635.0,1146.0 634.8,1146.0 634.2,1146.0 610.9,1146.0 610.4,1122.9 610.2,1122.9 609.6,1146.0 607.5,1146.0 606.9,1122.9 606.7,1122.9 606.2,1146.0 593.5,1146.0 593.0,1146.0 592.8,1146.0 592.3,1146.0 571.0,1146.0 571.0,1122.9 565.8,1122.9 565.2,1099.8 565.0,1099.8 564.5,1122.9 563.5,1122.9 563.0,1146.0 562.8,1146.0 562.2,1122.9 560.4,1122.9 559.9,1146.0 559.7,1146.0 559.2,1122.9 551.3,1122.9 550.8,1099.8 550.6,1099.8 550.0,1122.9 523.1,1122.9 522.5,1099.8 522.3,1099.8 521.8,1122.9 502.1,1122.9 501.5,1146.0 501.3,1146.0 500.8,1122.9 498.0,1122.9 498.0,1099.8 496.0,1099.8 495.5,1122.9 495.3,1122.9 494.8,1099.8 492.9,1099.8 492.3,1122.9 492.1,1122.9 491.6,1099.8 487.0,1099.8 486.4,1076.7 486.2,1076.7 485.7,1099.8 483.8,1099.8 483.2,1076.7 483.0,1076.7 482.5,1099.8 481.7,1099.8 481.2,1053.6 481.0,1053.6 480.5,1099.8 478.4,1099.8 478.4,1076.7 477.0,1076.7 476.4,1099.8 476.2,1099.8 475.7,1076.7 459.0,1076.7 459.0,1053.6 458.3,1053.6 457.8,1076.7 457.6,1076.7 457.0,1053.6 456.7,1053.6 456.1,1076.7 455.9,1076.7 455.4,1053.6 444.0,1053.6 443.4,1030.5 443.2,1030.5 442.7,1053.6 442.0,1053.6 442.0,1030.5 438.9,1030.5 438.4,1053.6 438.2,1053.6 437.6,1030.5 436.9,1030.5 436.3,1053.6 436.1,1053.6 435.6,1030.5 430.0,1030.5 430.0,1053.6 427.8,1053.6 427.3,1030.5 427.1,1030.5 426.6,1053.6 424.5,1053.6 423.9,1030.5 423.7,1030.5 423.2,1053.6 421.1,1053.6 420.5,1030.5 420.3,1030.5 419.8,1053.6 417.9,1053.6 417.4,1030.5 417.2,1030.5 416.6,1053.6 393.3,1053.6 392.8,1099.8 392.6,1099.8 392.0,1053.6 387.7,1053.6 387.1,1076.7 386.9,1076.7 386.4,1053.6 386.0,1053.6 385.4,1099.8 385.2,1099.8 384.7,1053.6 381.0,1053.6 381.0,1076.7 377.2,1076.7 376.6,1053.6 376.4,1053.6 375.9,1076.7 370.9,1076.7 370.3,1122.9 370.1,1122.9 369.6,1076.7 369.0,1076.7 369.0,1099.8 368.4,1099.8 367.9,1076.7 367.7,1076.7 367.1,1099.8 361.0,1099.8 360.4,1122.9 360.2,1122.9 359.7,1099.8 357.1,1099.8 356.6,1146.0 356.4,1146.0 355.8,1099.8 352.5,1099.8 352.5,1122.9 349.9,1122.9 349.4,1076.7 349.2,1076.7 348.6,1122.9 345.9,1122.9 345.4,1076.7 345.2,1076.7 344.6,1122.9 339.9,1122.9 339.4,1099.8 339.2,1099.8 338.6,1122.9 307.6,1122.9 307.1,1099.8 306.9,1099.8 306.3,1122.9 289.7,1122.9 289.2,1099.8 289.0,1099.8 288.5,1122.9 286.9,1122.9 286.3,1099.8 286.1,1099.8 285.6,1122.9 279.5,1122.9 279.5,1099.8 258.5,1099.8 257.9,1076.7 257.7,1076.7 257.2,1099.8 256.1,1099.8 255.6,1122.9 255.4,1122.9 254.8,1099.8 249.7,1099.8 249.2,1122.9 249.0,1122.9 248.4,1099.8 247.0,1099.8 247.0,1122.9 243.2,1122.9 242.6,1099.8 242.4,1099.8 241.9,1122.9 238.0,1122.9 238.0,1146.0 235.2,1146.0 234.6,1122.9 234.4,1122.9 233.9,1146.0 228.6,1146.0 228.1,1099.8 227.9,1099.8 227.3,1146.0 215.5,1146.0 215.0,1122.9 214.8,1122.9 214.2,1146.0 209.2,1146.0 208.7,1146.0 208.5,1146.0 207.9,1146.0 189.1,1146.0 188.6,1122.9 188.4,1122.9 187.8,1146.0 176.8,1146.0 176.2,1146.0 176.0,1146.0 175.5,1146.0 152.2,1146.0 151.6,1122.9 151.4,1122.9 150.9,1146.0 139.4,1146.0 138.9,1122.9 138.7,1122.9 138.2,1146.0 136.3,1146.0 135.8,1146.0 135.6,1146.0 135.1,1146.0 116.6,1146.0 116.1,1122.9 115.9,1122.9 115.3,1146.0 85.4,1146.0 84.9,1122.9 84.7,1122.9 84.1,1146.0 60.5,1146.0" fill="#1f77b4" fill-opacity="0.1" stroke="#1f77b4" stroke-opacity="0.1" stroke-width="1"/>
<line x1="750.6" x2="750.6" y1="592.5" y2="1145.5" stroke="#1f77b4" stroke-opacity="0.12" stroke-width="1.4"/>
<line x1="60.5" x2="785.5" y1="1030.50" y2="1030.50" stroke="#b0b0b0" stroke-width="1"/>
<line x1="60.5" x2="785.5" y1="915.50" y2="915.50" stroke="#b0b0b0" stroke-width="1"/>
<line x1="60.5" x2="785.5" y1="799.50" y2="799.50" stroke="#b0b0b0" stroke-width="1"/>
<line x1="60.5" x2="785.5" y1="684.50" y2="684.50" stroke="#b0b0b0" stroke-width="1"/>
<polyline points="60.5,1122.9 61.5,1146.0 93.7,1146.0 95.0,1122.9 141.0,1122.9 142.5,1146.0 143.7,1122.9 145.7,1146.0 212.5,1146.0 214.0,1122.9 225.0,1122.9 227.5,1099.8 235.0,1099.8 236.7,1076.7 244.0,1076.7 246.0,1053.6 256.0,1053.6 258.0,1030.5 259.5,1053.6 261.2,1030.5 262.7,1053.6 264.2,1030.5 265.5,1053.6 277.0,1053.6 278.7,1076.7 280.0,1053.6 281.7,1076.7 283.5,1053.6 285.0,1076.7 287.0,1053.6 288.7,1076.7 307.5,1076.7 310.5,1099.8 321.0,1099.8 323.0,1079.0 325.0,1095.2 327.0,1083.6 328.5,1097.5 330.0,1079.0 332.0,1095.2 333.7,1076.7 335.7,1099.8 336.2,1076.7 349.0,1076.7 351.7,1053.6 356.0,1053.6 358.7,1030.5 362.5,1030.5 364.0,1007.4 371.0,1007.4 373.0,984.3 375.7,984.3 377.5,961.2 383.7,961.2 385.0,938.1 391.0,938.1 392.5,915.0 397.5,915.0 399.0,891.9 402.5,891.9 403.7,915.0 405.5,868.8 407.0,915.0 408.7,868.8 410.5,915.0 412.0,868.8 413.7,891.9 415.5,891.9 417.0,868.8 418.7,915.0 420.5,868.8 422.0,915.0 423.7,891.9 425.5,915.0 427.0,891.9 428.7,868.8 430.0,891.9 431.2,915.0 433.7,915.0 435.0,891.9 436.2,915.0 440.0,915.0 441.2,938.1 442.5,921.9 444.5,938.1 446.2,924.2 448.0,938.1 450.0,938.1 452.5,961.2 462.0,961.2 463.7,984.3 466.0,1007.4 467.5,984.3 468.7,961.2 470.0,1007.4 478.7,1007.4 480.7,1030.5 487.5,1030.5 489.5,1053.6 500.0,1053.6 502.0,1076.7 503.2,1053.6 504.5,1076.7 525.7,1076.7 527.5,1099.8 531.2,1099.8 533.0,1076.7 534.5,1076.7 536.2,1099.8 590.0,1099.8 591.7,1122.9 593.0,1099.8 594.2,1122.9 711.2,1122.9 712.5,1099.8 722.5,1099.8 724.2,1076.7 732.5,1076.7 734.2,1053.6 743.0,1053.6 745.0,1030.5 751.2,1030.5 753.7,1007.4 755.0,1007.4 757.0,1030.5 758.7,1007.4 760.0,984.3 761.2,1007.4 763.0,984.3 764.5,1007.4 766.2,984.3 768.0,1007.4 769.5,984.3 783.7,984.3 785.2,961.2" fill="none" stroke="#1f77b4" stroke-width="2.08" stroke-linejoin="round" stroke-linecap="butt"/>
<line x1="749" x2="749" y1="1145.5" y2="592.5" stroke="#1f77b4" stroke-opacity="0.6" stroke-width="2.08" stroke-dasharray="7.7 3.33"/>
<g fill="#ff7f0e">
<circle cx="65.4" cy="1146.0" r="4.9"/>
<circle cx="69.3" cy="1146.0" r="4.9"/>
<circle cx="73.1" cy="1146.0" r="4.9"/>
<circle cx="77.0" cy="1146.0" r="4.9"/>
<circle cx="80.8" cy="1146.0" r="4.9"/>
<circle cx="84.7" cy="1146.0" r="4.9"/>
<circle cx="88.5" cy="1146.0" r="4.9"/>
<circle cx="92.4" cy="1146.0" r="4.9"/>
<circle cx="96.3" cy="1146.0" r="4.9"/>
<circle cx="100.1" cy="1146.0" r="4.9"/>
<circle cx="104.0" cy="1146.0" r="4.9"/>
<circle cx="107.8" cy="1146.0" r="4.9"/>
<circle cx="111.7" cy="1146.0" r="4.9"/>
<circle cx="115.5" cy="1146.0" r="4.9"/>
<circle cx="119.4" cy="1146.0" r="4.9"/>
<circle cx="123.3" cy="1146.0" r="4.9"/>
<circle cx="127.1" cy="1146.0" r="4.9"/>
<circle cx="131.0" cy="1146.0" r="4.9"/>
<circle cx="134.8" cy="1146.0" r="4.9"/>
<circle cx="138.7" cy="1146.0" r="4.9"/>
<circle cx="142.5" cy="1146.0" r="4.9"/>
<circle cx="146.4" cy="1146.0" r="4.9"/>
<circle cx="150.2" cy="1146.0" r="4.9"/>
<circle cx="154.1" cy="1146.0" r="4.9"/>
<circle cx="158.0" cy="1146.0" r="4.9"/>
<circle cx="161.8" cy="1146.0" r="4.9"/>
<circle cx="165.7" cy="1146.0" r="4.9"/>
<circle cx="169.5" cy="1146.0" r="4.9"/>
<circle cx="173.4" cy="1146.0" r="4.9"/>
<circle cx="177.2" cy="1146.0" r="4.9"/>
<circle cx="181.1" cy="1146.0" r="4.9"/>
<circle cx="185.0" cy="1146.0" r="4.9"/>
<circle cx="188.8" cy="1146.0" r="4.9"/>
<circle cx="192.7" cy="1146.0" r="4.9"/>
<circle cx="196.5" cy="1146.0" r="4.9"/>
<circle cx="200.4" cy="1146.0" r="4.9"/>
<circle cx="204.2" cy="1146.0" r="4.9"/>
<circle cx="208.1" cy="1146.0" r="4.9"/>
<circle cx="212.0" cy="1146.0" r="4.9"/>
<circle cx="215.8" cy="1146.0" r="4.9"/>
<circle cx="219.7" cy="1146.0" r="4.9"/>
<circle cx="223.5" cy="1146.0" r="4.9"/>
<circle cx="227.4" cy="1146.0" r="4.9"/>
<circle cx="231.2" cy="1146.0" r="4.9"/>
<circle cx="235.1" cy="1146.0" r="4.9"/>
<circle cx="244.9" cy="1146.0" r="4.9"/>
<circle cx="248.1" cy="1146.0" r="4.9"/>
<circle cx="251.3" cy="1146.0" r="4.9"/>
<circle cx="264.9" cy="1146.0" r="4.9"/>
<circle cx="268.9" cy="1146.0" r="4.9"/>
<circle cx="293.6" cy="1146.0" r="4.9"/>
<circle cx="297.1" cy="1146.0" r="4.9"/>
<circle cx="300.4" cy="1146.0" r="4.9"/>
<circle cx="303.9" cy="1146.0" r="4.9"/>
<circle cx="324.4" cy="1146.0" r="4.9"/>
<circle cx="341.2" cy="1146.0" r="4.9"/>
<circle cx="385.6" cy="1146.0" r="4.9"/>
<circle cx="399.4" cy="1146.0" r="4.9"/>
<circle cx="410.6" cy="1146.0" r="4.9"/>
<circle cx="427.5" cy="1146.0" r="4.9"/>
<circle cx="444.9" cy="1146.0" r="4.9"/>
<circle cx="466.9" cy="1146.0" r="4.9"/>
<circle cx="482.5" cy="1146.0" r="4.9"/>
<circle cx="494.9" cy="1146.0" r="4.9"/>
<circle cx="498.8" cy="1146.0" r="4.9"/>
<circle cx="502.6" cy="1146.0" r="4.9"/>
<circle cx="506.5" cy="1146.0" r="4.9"/>
<circle cx="510.3" cy="1146.0" r="4.9"/>
<circle cx="514.2" cy="1146.0" r="4.9"/>
<circle cx="518.0" cy="1146.0" r="4.9"/>
<circle cx="521.9" cy="1146.0" r="4.9"/>
<circle cx="525.7" cy="1146.0" r="4.9"/>
<circle cx="529.6" cy="1146.0" r="4.9"/>
<circle cx="533.4" cy="1146.0" r="4.9"/>
<circle cx="537.3" cy="1146.0" r="4.9"/>
<circle cx="541.1" cy="1146.0" r="4.9"/>
<circle cx="545.0" cy="1146.0" r="4.9"/>
<circle cx="548.9" cy="1146.0" r="4.9"/>
<circle cx="552.7" cy="1146.0" r="4.9"/>
<circle cx="556.6" cy="1146.0" r="4.9"/>
<circle cx="560.4" cy="1146.0" r="4.9"/>
<circle cx="564.3" cy="1146.0" r="4.9"/>
<circle cx="568.1" cy="1146.0" r="4.9"/>
<circle cx="572.0" cy="1146.0" r="4.9"/>
<circle cx="575.8" cy="1146.0" r="4.9"/>
<circle cx="579.7" cy="1146.0" r="4.9"/>
<circle cx="583.5" cy="1146.0" r="4.9"/>
<circle cx="587.4" cy="1146.0" r="4.9"/>
<circle cx="591.2" cy="1146.0" r="4.9"/>
<circle cx="595.1" cy="1146.0" r="4.9"/>
<circle cx="604.9" cy="1146.0" r="4.9"/>
<circle cx="608.8" cy="1146.0" r="4.9"/>
<circle cx="612.6" cy="1146.0" r="4.9"/>
<circle cx="616.5" cy="1146.0" r="4.9"/>
<circle cx="620.4" cy="1146.0" r="4.9"/>
<circle cx="624.2" cy="1146.0" r="4.9"/>
<circle cx="628.1" cy="1146.0" r="4.9"/>
<circle cx="631.9" cy="1146.0" r="4.9"/>
<circle cx="635.8" cy="1146.0" r="4.9"/>
<circle cx="639.7" cy="1146.0" r="4.9"/>
<circle cx="643.5" cy="1146.0" r="4.9"/>
<circle cx="647.4" cy="1146.0" r="4.9"/>
<circle cx="651.3" cy="1146.0" r="4.9"/>
<circle cx="655.1" cy="1146.0" r="4.9"/>
<circle cx="659.0" cy="1146.0" r="4.9"/>
<circle cx="662.8" cy="1146.0" r="4.9"/>
<circle cx="666.7" cy="1146.0" r="4.9"/>
<circle cx="670.6" cy="1146.0" r="4.9"/>
<circle cx="674.4" cy="1146.0" r="4.9"/>
<circle cx="678.3" cy="1146.0" r="4.9"/>
<circle cx="682.2" cy="1146.0" r="4.9"/>
<circle cx="686.0" cy="1146.0" r="4.9"/>
<circle cx="689.9" cy="1146.0" r="4.9"/>
<circle cx="693.7" cy="1146.0" r="4.9"/>
<circle cx="697.6" cy="1146.0" r="4.9"/>
<circle cx="701.5" cy="1146.0" r="4.9"/>
<circle cx="705.3" cy="1146.0" r="4.9"/>
<circle cx="709.2" cy="1146.0" r="4.9"/>
<circle cx="713.1" cy="1146.0" r="4.9"/>
<circle cx="716.9" cy="1146.0" r="4.9"/>
<circle cx="720.8" cy="1146.0" r="4.9"/>
<circle cx="724.6" cy="1146.0" r="4.9"/>
<circle cx="728.5" cy="1146.0" r="4.9"/>
<circle cx="732.4" cy="1146.0" r="4.9"/>
<circle cx="736.2" cy="1146.0" r="4.9"/>
<circle cx="740.1" cy="1146.0" r="4.9"/>
<circle cx="91.2" cy="1122.9" r="4.9"/>
<circle cx="94.4" cy="1122.9" r="4.9"/>
<circle cx="97.6" cy="1122.9" r="4.9"/>
<circle cx="108.1" cy="1122.9" r="4.9"/>
<circle cx="118.7" cy="1122.9" r="4.9"/>
<circle cx="136.2" cy="1122.9" r="4.9"/>
<circle cx="140.6" cy="1122.9" r="4.9"/>
<circle cx="153.7" cy="1122.9" r="4.9"/>
<circle cx="168.7" cy="1122.9" r="4.9"/>
<circle cx="173.8" cy="1122.9" r="4.9"/>
<circle cx="192.4" cy="1122.9" r="4.9"/>
<circle cx="196.4" cy="1122.9" r="4.9"/>
<circle cx="200.4" cy="1122.9" r="4.9"/>
<circle cx="204.5" cy="1122.9" r="4.9"/>
<circle cx="208.5" cy="1122.9" r="4.9"/>
<circle cx="212.5" cy="1122.9" r="4.9"/>
<circle cx="216.5" cy="1122.9" r="4.9"/>
<circle cx="220.5" cy="1122.9" r="4.9"/>
<circle cx="224.6" cy="1122.9" r="4.9"/>
<circle cx="228.6" cy="1122.9" r="4.9"/>
<circle cx="232.6" cy="1122.9" r="4.9"/>
<circle cx="277.9" cy="1122.9" r="4.9"/>
<circle cx="286.9" cy="1122.9" r="4.9"/>
<circle cx="296.4" cy="1122.9" r="4.9"/>
<circle cx="320.5" cy="1122.9" r="4.9"/>
<circle cx="340.4" cy="1122.9" r="4.9"/>
<circle cx="345.9" cy="1122.9" r="4.9"/>
<circle cx="358.6" cy="1122.9" r="4.9"/>
<circle cx="362.9" cy="1122.9" r="4.9"/>
<circle cx="367.1" cy="1122.9" r="4.9"/>
<circle cx="473.8" cy="1122.9" r="4.9"/>
<circle cx="517.0" cy="1122.9" r="4.9"/>
<circle cx="535.0" cy="1122.9" r="4.9"/>
<circle cx="548.8" cy="1122.9" r="4.9"/>
<circle cx="559.2" cy="1122.9" r="4.9"/>
<circle cx="603.0" cy="1122.9" r="4.9"/>
<circle cx="620.6" cy="1122.9" r="4.9"/>
<circle cx="625.0" cy="1122.9" r="4.9"/>
<circle cx="629.4" cy="1122.9" r="4.9"/>
<circle cx="681.1" cy="1122.9" r="4.9"/>
<circle cx="683.1" cy="1122.9" r="4.9"/>
<circle cx="699.9" cy="1122.9" r="4.9"/>
<circle cx="704.0" cy="1122.9" r="4.9"/>
<circle cx="708.1" cy="1122.9" r="4.9"/>
<circle cx="718.8" cy="1122.9" r="4.9"/>
<circle cx="737.5" cy="1122.9" r="4.9"/>
<circle cx="94.5" cy="1099.8" r="4.9"/>
<circle cx="104.9" cy="1099.8" r="4.9"/>
<circle cx="109.1" cy="1099.8" r="4.9"/>
<circle cx="113.4" cy="1099.8" r="4.9"/>
<circle cx="117.6" cy="1099.8" r="4.9"/>
<circle cx="126.6" cy="1099.8" r="4.9"/>
<circle cx="160.4" cy="1099.8" r="4.9"/>
<circle cx="163.8" cy="1099.8" r="4.9"/>
<circle cx="167.1" cy="1099.8" r="4.9"/>
<circle cx="184.4" cy="1099.8" r="4.9"/>
<circle cx="187.1" cy="1099.8" r="4.9"/>
<circle cx="221.4" cy="1099.8" r="4.9"/>
<circle cx="242.1" cy="1099.8" r="4.9"/>
<circle cx="262.0" cy="1099.8" r="4.9"/>
<circle cx="289.4" cy="1099.8" r="4.9"/>
<circle cx="295.1" cy="1099.8" r="4.9"/>
<circle cx="314.9" cy="1099.8" r="4.9"/>
<circle cx="319.2" cy="1099.8" r="4.9"/>
<circle cx="323.5" cy="1099.8" r="4.9"/>
<circle cx="327.8" cy="1099.8" r="4.9"/>
<circle cx="332.1" cy="1099.8" r="4.9"/>
<circle cx="343.2" cy="1099.8" r="4.9"/>
<circle cx="369.2" cy="1099.8" r="4.9"/>
<circle cx="393.8" cy="1099.8" r="4.9"/>
<circle cx="465.0" cy="1099.8" r="4.9"/>
<circle cx="530.5" cy="1099.8" r="4.9"/>
<circle cx="550.5" cy="1099.8" r="4.9"/>
<circle cx="565.0" cy="1099.8" r="4.9"/>
<circle cx="578.2" cy="1099.8" r="4.9"/>
<circle cx="630.5" cy="1099.8" r="4.9"/>
<circle cx="667.9" cy="1099.8" r="4.9"/>
<circle cx="672.1" cy="1099.8" r="4.9"/>
<circle cx="676.2" cy="1099.8" r="4.9"/>
<circle cx="680.4" cy="1099.8" r="4.9"/>
<circle cx="684.6" cy="1099.8" r="4.9"/>
<circle cx="700.5" cy="1099.8" r="4.9"/>
<circle cx="711.2" cy="1099.8" r="4.9"/>
<circle cx="725.5" cy="1099.8" r="4.9"/>
<circle cx="738.2" cy="1099.8" r="4.9"/>
<circle cx="88.4" cy="1076.7" r="4.9"/>
<circle cx="103.7" cy="1076.7" r="4.9"/>
<circle cx="106.3" cy="1076.7" r="4.9"/>
<circle cx="121.9" cy="1076.7" r="4.9"/>
<circle cx="134.2" cy="1076.7" r="4.9"/>
<circle cx="146.4" cy="1076.7" r="4.9"/>
<circle cx="149.6" cy="1076.7" r="4.9"/>
<circle cx="158.4" cy="1076.7" r="4.9"/>
<circle cx="235.2" cy="1076.7" r="4.9"/>
<circle cx="240.0" cy="1076.7" r="4.9"/>
<circle cx="253.8" cy="1076.7" r="4.9"/>
<circle cx="304.9" cy="1076.7" r="4.9"/>
<circle cx="308.4" cy="1076.7" r="4.9"/>
<circle cx="311.9" cy="1076.7" r="4.9"/>
<circle cx="315.4" cy="1076.7" r="4.9"/>
<circle cx="318.9" cy="1076.7" r="4.9"/>
<circle cx="328.6" cy="1076.7" r="4.9"/>
<circle cx="333.1" cy="1076.7" r="4.9"/>
<circle cx="337.6" cy="1076.7" r="4.9"/>
<circle cx="342.1" cy="1076.7" r="4.9"/>
<circle cx="351.2" cy="1076.7" r="4.9"/>
<circle cx="366.2" cy="1076.7" r="4.9"/>
<circle cx="376.9" cy="1076.7" r="4.9"/>
<circle cx="382.1" cy="1076.7" r="4.9"/>
<circle cx="412.5" cy="1076.7" r="4.9"/>
<circle cx="503.2" cy="1076.7" r="4.9"/>
<circle cx="526.9" cy="1076.7" r="4.9"/>
<circle cx="530.7" cy="1076.7" r="4.9"/>
<circle cx="534.5" cy="1076.7" r="4.9"/>
<circle cx="538.3" cy="1076.7" r="4.9"/>
<circle cx="542.1" cy="1076.7" r="4.9"/>
<circle cx="555.6" cy="1076.7" r="4.9"/>
<circle cx="560.1" cy="1076.7" r="4.9"/>
<circle cx="573.2" cy="1076.7" r="4.9"/>
<circle cx="587.9" cy="1076.7" r="4.9"/>
<circle cx="591.4" cy="1076.7" r="4.9"/>
<circle cx="666.9" cy="1076.7" r="4.9"/>
<circle cx="670.7" cy="1076.7" r="4.9"/>
<circle cx="674.5" cy="1076.7" r="4.9"/>
<circle cx="678.3" cy="1076.7" r="4.9"/>
<circle cx="682.1" cy="1076.7" r="4.9"/>
<circle cx="697.9" cy="1076.7" r="4.9"/>
<circle cx="702.1" cy="1076.7" r="4.9"/>
<circle cx="720.5" cy="1076.7" r="4.9"/>
<circle cx="746.2" cy="1076.7" r="4.9"/>
<circle cx="130.2" cy="1053.6" r="4.9"/>
<circle cx="220.4" cy="1053.6" r="4.9"/>
<circle cx="230.7" cy="1053.6" r="4.9"/>
<circle cx="235.1" cy="1053.6" r="4.9"/>
<circle cx="240.0" cy="1053.6" r="4.9"/>
<circle cx="248.8" cy="1053.6" r="4.9"/>
<circle cx="268.6" cy="1053.6" r="4.9"/>
<circle cx="270.9" cy="1053.6" r="4.9"/>
<circle cx="300.4" cy="1053.6" r="4.9"/>
<circle cx="304.2" cy="1053.6" r="4.9"/>
<circle cx="308.0" cy="1053.6" r="4.9"/>
<circle cx="311.8" cy="1053.6" r="4.9"/>
<circle cx="315.6" cy="1053.6" r="4.9"/>
<circle cx="325.0" cy="1053.6" r="4.9"/>
<circle cx="344.9" cy="1053.6" r="4.9"/>
<circle cx="348.5" cy="1053.6" r="4.9"/>
<circle cx="352.1" cy="1053.6" r="4.9"/>
<circle cx="375.5" cy="1053.6" r="4.9"/>
<circle cx="386.2" cy="1053.6" r="4.9"/>
<circle cx="402.5" cy="1053.6" r="4.9"/>
<circle cx="480.5" cy="1053.6" r="4.9"/>
<circle cx="494.5" cy="1053.6" r="4.9"/>
<circle cx="521.2" cy="1053.6" r="4.9"/>
<circle cx="569.1" cy="1053.6" r="4.9"/>
<circle cx="574.4" cy="1053.6" r="4.9"/>
<circle cx="619.5" cy="1053.6" r="4.9"/>
<circle cx="639.2" cy="1053.6" r="4.9"/>
<circle cx="664.1" cy="1053.6" r="4.9"/>
<circle cx="668.0" cy="1053.6" r="4.9"/>
<circle cx="672.0" cy="1053.6" r="4.9"/>
<circle cx="675.9" cy="1053.6" r="4.9"/>
<circle cx="692.9" cy="1053.6" r="4.9"/>
<circle cx="719.5" cy="1053.6" r="4.9"/>
<circle cx="266.2" cy="1030.5" r="4.9"/>
<circle cx="286.6" cy="1030.5" r="4.9"/>
<circle cx="291.4" cy="1030.5" r="4.9"/>
<circle cx="302.4" cy="1030.5" r="4.9"/>
<circle cx="306.2" cy="1030.5" r="4.9"/>
<circle cx="310.1" cy="1030.5" r="4.9"/>
<circle cx="328.1" cy="1030.5" r="4.9"/>
<circle cx="333.9" cy="1030.5" r="4.9"/>
<circle cx="361.2" cy="1030.5" r="4.9"/>
<circle cx="429.9" cy="1030.5" r="4.9"/>
<circle cx="435.1" cy="1030.5" r="4.9"/>
<circle cx="437.5" cy="1030.5" r="4.9"/>
<circle cx="455.0" cy="1030.5" r="4.9"/>
<circle cx="498.2" cy="1030.5" r="4.9"/>
<circle cx="522.5" cy="1030.5" r="4.9"/>
<circle cx="531.8" cy="1030.5" r="4.9"/>
<circle cx="546.6" cy="1030.5" r="4.9"/>
<circle cx="558.2" cy="1030.5" r="4.9"/>
<circle cx="582.0" cy="1030.5" r="4.9"/>
<circle cx="593.2" cy="1030.5" r="4.9"/>
<circle cx="614.2" cy="1030.5" r="4.9"/>
<circle cx="644.5" cy="1030.5" r="4.9"/>
<circle cx="706.9" cy="1030.5" r="4.9"/>
<circle cx="710.1" cy="1030.5" r="4.9"/>
<circle cx="107.9" cy="1007.4" r="4.9"/>
<circle cx="113.1" cy="1007.4" r="4.9"/>
<circle cx="238.1" cy="1007.4" r="4.9"/>
<circle cx="244.4" cy="1007.4" r="4.9"/>
<circle cx="257.9" cy="1007.4" r="4.9"/>
<circle cx="284.1" cy="1007.4" r="4.9"/>
<circle cx="287.1" cy="1007.4" r="4.9"/>
<circle cx="290.1" cy="1007.4" r="4.9"/>
<circle cx="309.2" cy="1007.4" r="4.9"/>
<circle cx="330.0" cy="1007.4" r="4.9"/>
<circle cx="348.0" cy="1007.4" r="4.9"/>
<circle cx="421.2" cy="1007.4" r="4.9"/>
<circle cx="454.4" cy="1007.4" r="4.9"/>
<circle cx="456.4" cy="1007.4" r="4.9"/>
<circle cx="485.5" cy="1007.4" r="4.9"/>
<circle cx="537.9" cy="1007.4" r="4.9"/>
<circle cx="540.1" cy="1007.4" r="4.9"/>
<circle cx="565.4" cy="1007.4" r="4.9"/>
<circle cx="567.1" cy="1007.4" r="4.9"/>
<circle cx="575.0" cy="1007.4" r="4.9"/>
<circle cx="583.8" cy="1007.4" r="4.9"/>
<circle cx="592.5" cy="1007.4" r="4.9"/>
<circle cx="600.5" cy="1007.4" r="4.9"/>
<circle cx="611.2" cy="1007.4" r="4.9"/>
<circle cx="621.2" cy="1007.4" r="4.9"/>
<circle cx="622.4" cy="1007.4" r="4.9"/>
<circle cx="625.6" cy="1007.4" r="4.9"/>
<circle cx="655.5" cy="1007.4" r="4.9"/>
<circle cx="715.8" cy="1007.4" r="4.9"/>
<circle cx="733.2" cy="1007.4" r="4.9"/>
<circle cx="229.2" cy="984.3" r="4.9"/>
<circle cx="256.6" cy="984.3" r="4.9"/>
<circle cx="259.6" cy="984.3" r="4.9"/>
<circle cx="262.6" cy="984.3" r="4.9"/>
<circle cx="273.6" cy="984.3" r="4.9"/>
<circle cx="276.9" cy="984.3" r="4.9"/>
<circle cx="280.1" cy="984.3" r="4.9"/>
<circle cx="356.1" cy="984.3" r="4.9"/>
<circle cx="359.6" cy="984.3" r="4.9"/>
<circle cx="372.5" cy="984.3" r="4.9"/>
<circle cx="384.2" cy="984.3" r="4.9"/>
<circle cx="403.2" cy="984.3" r="4.9"/>
<circle cx="477.4" cy="984.3" r="4.9"/>
<circle cx="487.5" cy="984.3" r="4.9"/>
<circle cx="499.2" cy="984.3" r="4.9"/>
<circle cx="520.5" cy="984.3" r="4.9"/>
<circle cx="638.2" cy="984.3" r="4.9"/>
<circle cx="724.2" cy="984.3" r="4.9"/>
<circle cx="734.2" cy="984.3" r="4.9"/>
<circle cx="743.0" cy="984.3" r="4.9"/>
<circle cx="245.0" cy="961.2" r="4.9"/>
<circle cx="336.2" cy="961.2" r="4.9"/>
<circle cx="375.0" cy="961.2" r="4.9"/>
<circle cx="396.2" cy="961.2" r="4.9"/>
<circle cx="460.0" cy="961.2" r="4.9"/>
<circle cx="605.0" cy="961.2" r="4.9"/>
<circle cx="743.8" cy="961.2" r="4.9"/>
<circle cx="747.5" cy="961.2" r="4.9"/>
<circle cx="238.2" cy="938.1" r="4.9"/>
<circle cx="250.5" cy="938.1" r="4.9"/>
<circle cx="272.5" cy="938.1" r="4.9"/>
<circle cx="276.2" cy="938.1" r="4.9"/>
<circle cx="356.5" cy="938.1" r="4.9"/>
<circle cx="403.8" cy="938.1" r="4.9"/>
<circle cx="490.1" cy="938.1" r="4.9"/>
<circle cx="493.6" cy="938.1" r="4.9"/>
<circle cx="506.8" cy="938.1" r="4.9"/>
<circle cx="516.2" cy="938.1" r="4.9"/>
<circle cx="531.2" cy="938.1" r="4.9"/>
<circle cx="568.2" cy="938.1" r="4.9"/>
<circle cx="577.5" cy="938.1" r="4.9"/>
<circle cx="729.2" cy="938.1" r="4.9"/>
<circle cx="254.5" cy="915.0" r="4.9"/>
<circle cx="285.0" cy="915.0" r="4.9"/>
<circle cx="294.2" cy="915.0" r="4.9"/>
<circle cx="357.2" cy="915.0" r="4.9"/>
<circle cx="391.2" cy="915.0" r="4.9"/>
<circle cx="442.5" cy="915.0" r="4.9"/>
<circle cx="457.5" cy="915.0" r="4.9"/>
<circle cx="484.5" cy="915.0" r="4.9"/>
<circle cx="515.5" cy="915.0" r="4.9"/>
<circle cx="727.5" cy="915.0" r="4.9"/>
<circle cx="249.2" cy="891.9" r="4.9"/>
<circle cx="282.5" cy="891.9" r="4.9"/>
<circle cx="353.2" cy="891.9" r="4.9"/>
<circle cx="365.2" cy="891.9" r="4.9"/>
<circle cx="433.2" cy="891.9" r="4.9"/>
<circle cx="449.2" cy="891.9" r="4.9"/>
<circle cx="488.9" cy="891.9" r="4.9"/>
<circle cx="491.9" cy="891.9" r="4.9"/>
<circle cx="494.9" cy="891.9" r="4.9"/>
<circle cx="504.2" cy="891.9" r="4.9"/>
<circle cx="529.2" cy="891.9" r="4.9"/>
<circle cx="647.5" cy="891.9" r="4.9"/>
<circle cx="281.2" cy="868.8" r="4.9"/>
<circle cx="377.0" cy="868.8" r="4.9"/>
<circle cx="432.5" cy="868.8" r="4.9"/>
<circle cx="446.4" cy="868.8" r="4.9"/>
<circle cx="449.9" cy="868.8" r="4.9"/>
<circle cx="458.9" cy="868.8" r="4.9"/>
<circle cx="462.4" cy="868.8" r="4.9"/>
<circle cx="475.5" cy="868.8" r="4.9"/>
<circle cx="247.5" cy="845.7" r="4.9"/>
<circle cx="471.2" cy="845.7" r="4.9"/>
<circle cx="539.2" cy="845.7" r="4.9"/>
<circle cx="267.2" cy="822.6" r="4.9"/>
<circle cx="362.5" cy="822.6" r="4.9"/>
<circle cx="389.2" cy="822.6" r="4.9"/>
<circle cx="398.8" cy="822.6" r="4.9"/>
<circle cx="401.2" cy="822.6" r="4.9"/>
<circle cx="512.5" cy="822.6" r="4.9"/>
<circle cx="662.5" cy="822.6" r="4.9"/>
<circle cx="370.2" cy="799.5" r="4.9"/>
<circle cx="418.0" cy="799.5" r="4.9"/>
<circle cx="363.2" cy="776.4" r="4.9"/>
<circle cx="378.8" cy="776.4" r="4.9"/>
<circle cx="382.0" cy="776.4" r="4.9"/>
<circle cx="427.5" cy="776.4" r="4.9"/>
<circle cx="441.2" cy="776.4" r="4.9"/>
<circle cx="371.4" cy="753.3" r="4.9"/>
<circle cx="395.4" cy="753.3" r="4.9"/>
<circle cx="424.2" cy="753.3" r="4.9"/>
<circle cx="451.2" cy="753.3" r="4.9"/>
<circle cx="300.1" cy="730.2" r="4.9"/>
<circle cx="409.2" cy="730.2" r="4.9"/>
<circle cx="419.4" cy="730.2" r="4.9"/>
<circle cx="742.2" cy="730.2" r="4.9"/>
<circle cx="380.4" cy="707.1" r="4.9"/>
<circle cx="414.1" cy="707.1" r="4.9"/>
<circle cx="422.4" cy="707.1" r="4.9"/>
<circle cx="470.4" cy="707.1" r="4.9"/>
<circle cx="413.4" cy="684.0" r="4.9"/>
<circle cx="423.1" cy="684.0" r="4.9"/>
<circle cx="398.7" cy="660.9" r="4.9"/>
<circle cx="431.4" cy="660.9" r="4.9"/>
<circle cx="735.2" cy="637.8" r="4.9"/>
<circle cx="390.5" cy="614.7" r="4.9"/>
<circle cx="408.1" cy="614.7" r="4.9"/>
<circle cx="440.4" cy="614.7" r="4.9"/>
</g>
</g>
<rect x="60.5" y="592.5" width="725" height="553" fill="none" stroke="#000" stroke-width="1"/>
<line x1="55" x2="60.5" y1="1145.50" y2="1145.50" stroke="#000" stroke-width="1"/>
<text x="49.6" y="1150.70" font-size="14.5" text-anchor="end" textLength="7.4" lengthAdjust="spacingAndGlyphs">0</text>
<line x1="55" x2="60.5" y1="1030.50" y2="1030.50" stroke="#000" stroke-width="1"/>
<text x="49.6" y="1035.70" font-size="14.5" text-anchor="end" textLength="7.4" lengthAdjust="spacingAndGlyphs">5</text>
<line x1="55" x2="60.5" y1="915.50" y2="915.50" stroke="#000" stroke-width="1"/>
<text x="49.6" y="920.70" font-size="14.5" text-anchor="end" textLength="15.9" lengthAdjust="spacingAndGlyphs">10</text>
<line x1="55" x2="60.5" y1="799.50" y2="799.50" stroke="#000" stroke-width="1"/>
<text x="49.6" y="804.70" font-size="14.5" text-anchor="end" textLength="15.9" lengthAdjust="spacingAndGlyphs">15</text>
<line x1="55" x2="60.5" y1="684.50" y2="684.50" stroke="#000" stroke-width="1"/>
<text x="49.6" y="689.70" font-size="14.5" text-anchor="end" textLength="15.9" lengthAdjust="spacingAndGlyphs">20</text>
<line x1="60.5" x2="60.5" y1="568.5" y2="574" stroke="#000" stroke-width="1"/>
<line x1="785.5" x2="785.5" y1="568.5" y2="574" stroke="#000" stroke-width="1"/>
<line x1="96.50" x2="96.50" y1="568.5" y2="574" stroke="#000" stroke-width="1"/>
<line x1="134.50" x2="134.50" y1="568.5" y2="571.7" stroke="#000" stroke-width="0.9"/>
<line x1="173.50" x2="173.50" y1="568.5" y2="571.7" stroke="#000" stroke-width="0.9"/>
<line x1="212.50" x2="212.50" y1="568.5" y2="574" stroke="#000" stroke-width="1"/>
<line x1="251.50" x2="251.50" y1="568.5" y2="571.7" stroke="#000" stroke-width="0.9"/>
<line x1="290.50" x2="290.50" y1="568.5" y2="571.7" stroke="#000" stroke-width="0.9"/>
<line x1="328.50" x2="328.50" y1="568.5" y2="574" stroke="#000" stroke-width="1"/>
<line x1="368.50" x2="368.50" y1="568.5" y2="571.7" stroke="#000" stroke-width="0.9"/>
<line x1="406.50" x2="406.50" y1="568.5" y2="571.7" stroke="#000" stroke-width="0.9"/>
<line x1="445.50" x2="445.50" y1="568.5" y2="574" stroke="#000" stroke-width="1"/>
<line x1="485.50" x2="485.50" y1="568.5" y2="571.7" stroke="#000" stroke-width="0.9"/>
<line x1="520.50" x2="520.50" y1="568.5" y2="571.7" stroke="#000" stroke-width="0.9"/>
<line x1="559.50" x2="559.50" y1="568.5" y2="574" stroke="#000" stroke-width="1"/>
<line x1="598.50" x2="598.50" y1="568.5" y2="571.7" stroke="#000" stroke-width="0.9"/>
<line x1="637.50" x2="637.50" y1="568.5" y2="571.7" stroke="#000" stroke-width="0.9"/>
<line x1="675.50" x2="675.50" y1="568.5" y2="574" stroke="#000" stroke-width="1"/>
<line x1="714.50" x2="714.50" y1="568.5" y2="571.7" stroke="#000" stroke-width="0.9"/>
<line x1="754.50" x2="754.50" y1="568.5" y2="571.7" stroke="#000" stroke-width="0.9"/>
<line x1="60.5" x2="60.5" y1="1145.5" y2="1151" stroke="#000" stroke-width="1"/>
<line x1="785.5" x2="785.5" y1="1145.5" y2="1151" stroke="#000" stroke-width="1"/>
<line x1="96.50" x2="96.50" y1="1145.5" y2="1151" stroke="#000" stroke-width="1"/>
<text x="96.50" y="1166.5" font-size="14.5" text-anchor="middle" textLength="23.5" lengthAdjust="spacingAndGlyphs">Apr</text>
<line x1="134.50" x2="134.50" y1="1145.5" y2="1148.7" stroke="#000" stroke-width="0.9"/>
<line x1="173.50" x2="173.50" y1="1145.5" y2="1148.7" stroke="#000" stroke-width="0.9"/>
<line x1="212.50" x2="212.50" y1="1145.5" y2="1151" stroke="#000" stroke-width="1"/>
<text x="212.50" y="1166.5" font-size="14.5" text-anchor="middle" textLength="17" lengthAdjust="spacingAndGlyphs">Jul</text>
<line x1="251.50" x2="251.50" y1="1145.5" y2="1148.7" stroke="#000" stroke-width="0.9"/>
<line x1="290.50" x2="290.50" y1="1145.5" y2="1148.7" stroke="#000" stroke-width="0.9"/>
<line x1="328.50" x2="328.50" y1="1145.5" y2="1151" stroke="#000" stroke-width="1"/>
<text x="328.50" y="1166.5" font-size="14.5" text-anchor="middle" textLength="23.5" lengthAdjust="spacingAndGlyphs">Oct</text>
<line x1="368.50" x2="368.50" y1="1145.5" y2="1148.7" stroke="#000" stroke-width="0.9"/>
<line x1="406.50" x2="406.50" y1="1145.5" y2="1148.7" stroke="#000" stroke-width="0.9"/>
<line x1="445.50" x2="445.50" y1="1145.5" y2="1151" stroke="#000" stroke-width="1"/>
<text x="445.50" y="1166.5" font-size="14.5" text-anchor="middle" textLength="23.5" lengthAdjust="spacingAndGlyphs">Jan</text>
<text x="445.50" y="1182.5" font-size="14.5" text-anchor="middle" textLength="33.5" lengthAdjust="spacingAndGlyphs">2021</text>
<line x1="485.50" x2="485.50" y1="1145.5" y2="1148.7" stroke="#000" stroke-width="0.9"/>
<line x1="520.50" x2="520.50" y1="1145.5" y2="1148.7" stroke="#000" stroke-width="0.9"/>
<line x1="559.50" x2="559.50" y1="1145.5" y2="1151" stroke="#000" stroke-width="1"/>
<text x="559.50" y="1166.5" font-size="14.5" text-anchor="middle" textLength="23.5" lengthAdjust="spacingAndGlyphs">Apr</text>
<line x1="598.50" x2="598.50" y1="1145.5" y2="1148.7" stroke="#000" stroke-width="0.9"/>
<line x1="637.50" x2="637.50" y1="1145.5" y2="1148.7" stroke="#000" stroke-width="0.9"/>
<line x1="675.50" x2="675.50" y1="1145.5" y2="1151" stroke="#000" stroke-width="1"/>
<text x="675.50" y="1166.5" font-size="14.5" text-anchor="middle" textLength="17" lengthAdjust="spacingAndGlyphs">Jul</text>
<line x1="714.50" x2="714.50" y1="1145.5" y2="1148.7" stroke="#000" stroke-width="0.9"/>
<line x1="754.50" x2="754.50" y1="1145.5" y2="1148.7" stroke="#000" stroke-width="0.9"/>
<rect x="67.4" y="22" width="158" height="25" rx="2.8" ry="2.8" fill="#fff" fill-opacity="0.8" stroke="#ccc" stroke-width="1.1"/>
<line x1="71.3" x2="101.3" y1="33.3" y2="33.3" stroke="#1f77b4" stroke-width="2.08"/>
<text x="111.3" y="38.2" font-size="14.5" textLength="107.5" lengthAdjust="spacingAndGlyphs">daily confirmed</text>
<rect x="67.4" y="599.5" width="135" height="25" rx="2.8" ry="2.8" fill="#fff" fill-opacity="0.8" stroke="#ccc" stroke-width="1.1"/>
<line x1="71.3" x2="101.3" y1="610.8" y2="610.8" stroke="#1f77b4" stroke-width="2.08"/>
<text x="111.3" y="615.7" font-size="14.5" textLength="84" lengthAdjust="spacingAndGlyphs">daily deaths</text>
<text x="340" y="36.2" font-size="17" textLength="116.3" lengthAdjust="spacingAndGlyphs">Idaho 28 days</text>
</svg></body></html>
